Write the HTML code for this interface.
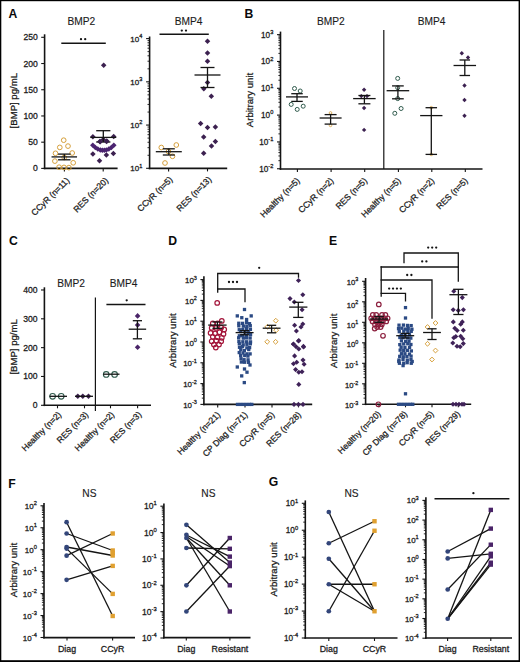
<!DOCTYPE html>
<html><head><meta charset="utf-8"><style>
html,body{margin:0;padding:0;background:#fff;width:520px;height:662px;overflow:hidden}
svg{display:block;font-family:"Liberation Sans",sans-serif}
</style></head><body>
<svg width="520" height="662" viewBox="0 0 520 662" font-family="Liberation Sans, sans-serif">
<rect width="520" height="662" fill="#fff"/>
<text x="8.6" y="17.9" font-size="12.2" text-anchor="start" font-weight="bold" fill="#0a0a0a">A</text>
<text x="81.3" y="24.6" font-size="10.2" text-anchor="middle" fill="#1c1c1c" stroke="#1c1c1c" stroke-width="0.12">BMP2</text>
<text x="188.5" y="24.6" font-size="10.2" text-anchor="middle" fill="#1c1c1c" stroke="#1c1c1c" stroke-width="0.12">BMP4</text>
<text x="17.4" y="100.7" font-size="9.6" text-anchor="middle" transform="rotate(-90 17.4 100.7)" fill="#1c1c1c" stroke="#1c1c1c" stroke-width="0.28">[BMP] pg/mL</text>
<line x1="44.6" y1="34.3" x2="44.6" y2="169.2" stroke="#141414" stroke-width="1.6" stroke-linecap="butt"/>
<line x1="43.8" y1="168.4" x2="117.6" y2="168.4" stroke="#141414" stroke-width="1.6" stroke-linecap="butt"/>
<line x1="41.2" y1="168.4" x2="44.6" y2="168.4" stroke="#141414" stroke-width="1.1" stroke-linecap="butt"/>
<text x="37.8" y="171.4" font-size="8.6" text-anchor="end" fill="#1c1c1c" stroke="#1c1c1c" stroke-width="0.28">0</text>
<line x1="41.2" y1="142.18" x2="44.6" y2="142.18" stroke="#141414" stroke-width="1.1" stroke-linecap="butt"/>
<text x="37.8" y="145.18" font-size="8.6" text-anchor="end" fill="#1c1c1c" stroke="#1c1c1c" stroke-width="0.28">50</text>
<line x1="41.2" y1="115.96" x2="44.6" y2="115.96" stroke="#141414" stroke-width="1.1" stroke-linecap="butt"/>
<text x="37.8" y="118.96" font-size="8.6" text-anchor="end" fill="#1c1c1c" stroke="#1c1c1c" stroke-width="0.28">100</text>
<line x1="41.2" y1="89.74" x2="44.6" y2="89.74" stroke="#141414" stroke-width="1.1" stroke-linecap="butt"/>
<text x="37.8" y="92.74" font-size="8.6" text-anchor="end" fill="#1c1c1c" stroke="#1c1c1c" stroke-width="0.28">150</text>
<line x1="41.2" y1="63.52" x2="44.6" y2="63.52" stroke="#141414" stroke-width="1.1" stroke-linecap="butt"/>
<text x="37.8" y="66.52" font-size="8.6" text-anchor="end" fill="#1c1c1c" stroke="#1c1c1c" stroke-width="0.28">200</text>
<line x1="41.2" y1="37.3" x2="44.6" y2="37.3" stroke="#141414" stroke-width="1.1" stroke-linecap="butt"/>
<text x="37.8" y="40.3" font-size="8.6" text-anchor="end" fill="#1c1c1c" stroke="#1c1c1c" stroke-width="0.28">250</text>
<line x1="64.4" y1="168.4" x2="64.4" y2="171.4" stroke="#141414" stroke-width="1.1" stroke-linecap="butt"/>
<text x="70" y="181" font-size="8.6" text-anchor="end" transform="rotate(-45 70 181)" fill="#1c1c1c" stroke="#1c1c1c" stroke-width="0.28">CCyR (n=11)</text>
<line x1="103.2" y1="168.4" x2="103.2" y2="171.4" stroke="#141414" stroke-width="1.1" stroke-linecap="butt"/>
<text x="108.8" y="181" font-size="8.6" text-anchor="end" transform="rotate(-45 108.8 181)" fill="#1c1c1c" stroke="#1c1c1c" stroke-width="0.28">RES (n=20)</text>
<line x1="61.3" y1="43.3" x2="105.8" y2="43.3" stroke="#141414" stroke-width="1.4" stroke-linecap="butt"/>
<circle cx="81" cy="39.2" r="1.15" fill="#141414"/>
<circle cx="85.2" cy="39.2" r="1.15" fill="#141414"/>
<circle cx="63.7" cy="140.2" r="2.35" fill="none" stroke="#d6a03c" stroke-width="1.0"/>
<circle cx="59.8" cy="147.4" r="2.35" fill="none" stroke="#d6a03c" stroke-width="1.0"/>
<circle cx="68" cy="146.1" r="2.35" fill="none" stroke="#d6a03c" stroke-width="1.0"/>
<circle cx="55.5" cy="153.3" r="2.35" fill="none" stroke="#d6a03c" stroke-width="1.0"/>
<circle cx="72.2" cy="153" r="2.35" fill="none" stroke="#d6a03c" stroke-width="1.0"/>
<circle cx="54.9" cy="161.1" r="2.35" fill="none" stroke="#d6a03c" stroke-width="1.0"/>
<circle cx="73.2" cy="162.8" r="2.35" fill="none" stroke="#d6a03c" stroke-width="1.0"/>
<circle cx="59.1" cy="167.2" r="2.35" fill="none" stroke="#d6a03c" stroke-width="1.0"/>
<circle cx="64" cy="167.4" r="2.35" fill="none" stroke="#d6a03c" stroke-width="1.0"/>
<circle cx="68.9" cy="167.6" r="2.35" fill="none" stroke="#d6a03c" stroke-width="1.0"/>
<circle cx="64.2" cy="157.5" r="2.35" fill="none" stroke="#d6a03c" stroke-width="1.0"/>
<line x1="51.55" y1="156.9" x2="77.05" y2="156.9" stroke="#141414" stroke-width="1.3" stroke-linecap="butt"/>
<line x1="58.05" y1="154.1" x2="70.55" y2="154.1" stroke="#141414" stroke-width="1.3" stroke-linecap="butt"/>
<line x1="58.05" y1="159.8" x2="70.55" y2="159.8" stroke="#141414" stroke-width="1.3" stroke-linecap="butt"/>
<line x1="64.3" y1="154.1" x2="64.3" y2="159.8" stroke="#141414" stroke-width="1.3" stroke-linecap="butt"/>
<path d="M103.7 62.55L106.45 65.3L103.7 68.05L100.95 65.3Z" fill="#3c2150"/>
<path d="M92.9 134.05L95.65 136.8L92.9 139.55L90.15 136.8Z" fill="#3c2150"/>
<path d="M113.7 133.65L116.45 136.4L113.7 139.15L110.95 136.4Z" fill="#3c2150"/>
<path d="M99.9 138.85L102.65 141.6L99.9 144.35L97.15 141.6Z" fill="#3c2150"/>
<path d="M106.8 138.15L109.55 140.9L106.8 143.65L104.05 140.9Z" fill="#3c2150"/>
<path d="M103.3 136.75L106.05 139.5L103.3 142.25L100.55 139.5Z" fill="#3c2150"/>
<path d="M92.9 151.35L95.65 154.1L92.9 156.85L90.15 154.1Z" fill="#3c2150"/>
<path d="M106.4 152.35L109.15 155.1L106.4 157.85L103.65 155.1Z" fill="#3c2150"/>
<path d="M113.4 150.65L116.15 153.4L113.4 156.15L110.65 153.4Z" fill="#3c2150"/>
<path d="M99.5 157.95L102.25 160.7L99.5 163.45L96.75 160.7Z" fill="#3c2150"/>
<path d="M92.8 142.47L95.55 145.22L92.8 147.97L90.05 145.22Z" fill="#4b2470"/>
<path d="M95.3 144.64L98.05 147.39L95.3 150.14L92.55 147.39Z" fill="#4b2470"/>
<path d="M97.8 146.23L100.55 148.98L97.8 151.73L95.05 148.98Z" fill="#4b2470"/>
<path d="M100.3 147.23L103.05 149.98L100.3 152.73L97.55 149.98Z" fill="#4b2470"/>
<path d="M102.3 147.6L105.05 150.35L102.3 153.1L99.55 150.35Z" fill="#4b2470"/>
<path d="M104.3 147.6L107.05 150.35L104.3 153.1L101.55 150.35Z" fill="#4b2470"/>
<path d="M106.3 147.23L109.05 149.98L106.3 152.73L103.55 149.98Z" fill="#4b2470"/>
<path d="M108.8 146.23L111.55 148.98L108.8 151.73L106.05 148.98Z" fill="#4b2470"/>
<path d="M111.3 144.64L114.05 147.39L111.3 150.14L108.55 147.39Z" fill="#4b2470"/>
<path d="M113.8 142.47L116.55 145.22L113.8 147.97L111.05 145.22Z" fill="#4b2470"/>
<line x1="90.3" y1="137.4" x2="116.3" y2="137.4" stroke="#141414" stroke-width="1.3" stroke-linecap="butt"/>
<line x1="96.2" y1="130.7" x2="110.4" y2="130.7" stroke="#141414" stroke-width="1.3" stroke-linecap="butt"/>
<line x1="96.2" y1="142" x2="110.4" y2="142" stroke="#141414" stroke-width="1.3" stroke-linecap="butt"/>
<line x1="103.3" y1="130.7" x2="103.3" y2="142" stroke="#141414" stroke-width="1.3" stroke-linecap="butt"/>
<path d="M100.2 139.05L102.95 141.8L100.2 144.55L97.45 141.8Z" fill="#3c2150"/>
<path d="M106.5 138.65L109.25 141.4L106.5 144.15L103.75 141.4Z" fill="#3c2150"/>
<line x1="149.6" y1="36.5" x2="149.6" y2="169.2" stroke="#141414" stroke-width="1.6" stroke-linecap="butt"/>
<line x1="148.8" y1="168.4" x2="227.2" y2="168.4" stroke="#141414" stroke-width="1.6" stroke-linecap="butt"/>
<line x1="146.1" y1="38.6" x2="149.6" y2="38.6" stroke="#141414" stroke-width="1.1" stroke-linecap="butt"/>
<text x="142.4" y="41.6" font-size="8.0" text-anchor="end" fill="#1c1c1c" stroke="#1c1c1c" stroke-width="0.28">10<tspan font-size="5.6" dy="-3.58">4</tspan></text>
<line x1="147.5" y1="68.82" x2="149.6" y2="68.82" stroke="#141414" stroke-width="0.9" stroke-linecap="butt"/>
<line x1="147.5" y1="61.21" x2="149.6" y2="61.21" stroke="#141414" stroke-width="0.9" stroke-linecap="butt"/>
<line x1="147.5" y1="55.8" x2="149.6" y2="55.8" stroke="#141414" stroke-width="0.9" stroke-linecap="butt"/>
<line x1="147.5" y1="51.61" x2="149.6" y2="51.61" stroke="#141414" stroke-width="0.9" stroke-linecap="butt"/>
<line x1="147.5" y1="48.19" x2="149.6" y2="48.19" stroke="#141414" stroke-width="0.9" stroke-linecap="butt"/>
<line x1="147.5" y1="45.3" x2="149.6" y2="45.3" stroke="#141414" stroke-width="0.9" stroke-linecap="butt"/>
<line x1="147.5" y1="42.79" x2="149.6" y2="42.79" stroke="#141414" stroke-width="0.9" stroke-linecap="butt"/>
<line x1="147.5" y1="40.58" x2="149.6" y2="40.58" stroke="#141414" stroke-width="0.9" stroke-linecap="butt"/>
<line x1="146.1" y1="81.83" x2="149.6" y2="81.83" stroke="#141414" stroke-width="1.1" stroke-linecap="butt"/>
<text x="142.4" y="84.83" font-size="8.0" text-anchor="end" fill="#1c1c1c" stroke="#1c1c1c" stroke-width="0.28">10<tspan font-size="5.6" dy="-3.58">3</tspan></text>
<line x1="147.5" y1="112.05" x2="149.6" y2="112.05" stroke="#141414" stroke-width="0.9" stroke-linecap="butt"/>
<line x1="147.5" y1="104.44" x2="149.6" y2="104.44" stroke="#141414" stroke-width="0.9" stroke-linecap="butt"/>
<line x1="147.5" y1="99.04" x2="149.6" y2="99.04" stroke="#141414" stroke-width="0.9" stroke-linecap="butt"/>
<line x1="147.5" y1="94.85" x2="149.6" y2="94.85" stroke="#141414" stroke-width="0.9" stroke-linecap="butt"/>
<line x1="147.5" y1="91.42" x2="149.6" y2="91.42" stroke="#141414" stroke-width="0.9" stroke-linecap="butt"/>
<line x1="147.5" y1="88.53" x2="149.6" y2="88.53" stroke="#141414" stroke-width="0.9" stroke-linecap="butt"/>
<line x1="147.5" y1="86.02" x2="149.6" y2="86.02" stroke="#141414" stroke-width="0.9" stroke-linecap="butt"/>
<line x1="147.5" y1="83.81" x2="149.6" y2="83.81" stroke="#141414" stroke-width="0.9" stroke-linecap="butt"/>
<line x1="146.1" y1="125.07" x2="149.6" y2="125.07" stroke="#141414" stroke-width="1.1" stroke-linecap="butt"/>
<text x="142.4" y="128.07" font-size="8.0" text-anchor="end" fill="#1c1c1c" stroke="#1c1c1c" stroke-width="0.28">10<tspan font-size="5.6" dy="-3.58">2</tspan></text>
<line x1="147.5" y1="155.29" x2="149.6" y2="155.29" stroke="#141414" stroke-width="0.9" stroke-linecap="butt"/>
<line x1="147.5" y1="147.67" x2="149.6" y2="147.67" stroke="#141414" stroke-width="0.9" stroke-linecap="butt"/>
<line x1="147.5" y1="142.27" x2="149.6" y2="142.27" stroke="#141414" stroke-width="0.9" stroke-linecap="butt"/>
<line x1="147.5" y1="138.08" x2="149.6" y2="138.08" stroke="#141414" stroke-width="0.9" stroke-linecap="butt"/>
<line x1="147.5" y1="134.66" x2="149.6" y2="134.66" stroke="#141414" stroke-width="0.9" stroke-linecap="butt"/>
<line x1="147.5" y1="131.76" x2="149.6" y2="131.76" stroke="#141414" stroke-width="0.9" stroke-linecap="butt"/>
<line x1="147.5" y1="129.26" x2="149.6" y2="129.26" stroke="#141414" stroke-width="0.9" stroke-linecap="butt"/>
<line x1="147.5" y1="127.04" x2="149.6" y2="127.04" stroke="#141414" stroke-width="0.9" stroke-linecap="butt"/>
<line x1="146.1" y1="168.3" x2="149.6" y2="168.3" stroke="#141414" stroke-width="1.1" stroke-linecap="butt"/>
<text x="142.4" y="171.3" font-size="8.0" text-anchor="end" fill="#1c1c1c" stroke="#1c1c1c" stroke-width="0.28">10<tspan font-size="5.6" dy="-3.58">1</tspan></text>
<line x1="168.6" y1="168.4" x2="168.6" y2="171.4" stroke="#141414" stroke-width="1.1" stroke-linecap="butt"/>
<text x="173.1" y="180" font-size="8.6" text-anchor="end" transform="rotate(-45 173.1 180)" fill="#1c1c1c" stroke="#1c1c1c" stroke-width="0.28">CCyR (n=5)</text>
<line x1="207.5" y1="168.4" x2="207.5" y2="171.4" stroke="#141414" stroke-width="1.1" stroke-linecap="butt"/>
<text x="212" y="180" font-size="8.6" text-anchor="end" transform="rotate(-45 212 180)" fill="#1c1c1c" stroke="#1c1c1c" stroke-width="0.28">RES (n=13)</text>
<line x1="159.5" y1="34.3" x2="208.8" y2="34.3" stroke="#141414" stroke-width="1.4" stroke-linecap="butt"/>
<circle cx="181.8" cy="30.6" r="1.15" fill="#141414"/>
<circle cx="186" cy="30.6" r="1.15" fill="#141414"/>
<circle cx="161.3" cy="147.5" r="2.35" fill="none" stroke="#d6a03c" stroke-width="1.0"/>
<circle cx="176.3" cy="145" r="2.35" fill="none" stroke="#d6a03c" stroke-width="1.0"/>
<circle cx="172.5" cy="156.3" r="2.35" fill="none" stroke="#d6a03c" stroke-width="1.0"/>
<circle cx="165" cy="163" r="2.35" fill="none" stroke="#d6a03c" stroke-width="1.0"/>
<circle cx="168.5" cy="151.5" r="2.35" fill="none" stroke="#d6a03c" stroke-width="1.0"/>
<line x1="155.8" y1="151.7" x2="181.8" y2="151.7" stroke="#141414" stroke-width="1.3" stroke-linecap="butt"/>
<line x1="162.8" y1="148.8" x2="174.8" y2="148.8" stroke="#141414" stroke-width="1.3" stroke-linecap="butt"/>
<line x1="162.8" y1="155" x2="174.8" y2="155" stroke="#141414" stroke-width="1.3" stroke-linecap="butt"/>
<line x1="168.8" y1="148.8" x2="168.8" y2="155" stroke="#141414" stroke-width="1.3" stroke-linecap="butt"/>
<path d="M207.5 38.55L210.25 41.3L207.5 44.05L204.75 41.3Z" fill="#3c2150"/>
<path d="M207.5 50.25L210.25 53L207.5 55.75L204.75 53Z" fill="#3c2150"/>
<path d="M207.5 58.55L210.25 61.3L207.5 64.05L204.75 61.3Z" fill="#3c2150"/>
<path d="M207.5 79.75L210.25 82.5L207.5 85.25L204.75 82.5Z" fill="#3c2150"/>
<path d="M203.8 86.05L206.55 88.8L203.8 91.55L201.05 88.8Z" fill="#3c2150"/>
<path d="M211.3 93.55L214.05 96.3L211.3 99.05L208.55 96.3Z" fill="#3c2150"/>
<path d="M200.6 120.85L203.35 123.6L200.6 126.35L197.85 123.6Z" fill="#3c2150"/>
<path d="M207.5 124.65L210.25 127.4L207.5 130.15L204.75 127.4Z" fill="#3c2150"/>
<path d="M215.4 124.35L218.15 127.1L215.4 129.85L212.65 127.1Z" fill="#3c2150"/>
<path d="M203.7 134.15L206.45 136.9L203.7 139.65L200.95 136.9Z" fill="#3c2150"/>
<path d="M215.4 138.65L218.15 141.4L215.4 144.15L212.65 141.4Z" fill="#3c2150"/>
<path d="M211.5 143.35L214.25 146.1L211.5 148.85L208.75 146.1Z" fill="#3c2150"/>
<path d="M203.7 150.55L206.45 153.3L203.7 156.05L200.95 153.3Z" fill="#3c2150"/>
<line x1="194.5" y1="75" x2="220.5" y2="75" stroke="#141414" stroke-width="1.3" stroke-linecap="butt"/>
<line x1="200.5" y1="67.5" x2="214.5" y2="67.5" stroke="#141414" stroke-width="1.3" stroke-linecap="butt"/>
<line x1="200.5" y1="87.5" x2="214.5" y2="87.5" stroke="#141414" stroke-width="1.3" stroke-linecap="butt"/>
<line x1="207.5" y1="67.5" x2="207.5" y2="87.5" stroke="#141414" stroke-width="1.3" stroke-linecap="butt"/>
<text x="244.5" y="18" font-size="12.2" text-anchor="start" font-weight="bold" fill="#0a0a0a">B</text>
<text x="330.8" y="24.6" font-size="10.2" text-anchor="middle" fill="#1c1c1c" stroke="#1c1c1c" stroke-width="0.12">BMP2</text>
<text x="431.5" y="24.6" font-size="10.2" text-anchor="middle" fill="#1c1c1c" stroke="#1c1c1c" stroke-width="0.12">BMP4</text>
<text x="252.8" y="100" font-size="9.6" text-anchor="middle" transform="rotate(-90 252.8 100)" fill="#1c1c1c" stroke="#1c1c1c" stroke-width="0.28">Arbitrary unit</text>
<line x1="280.5" y1="31.6" x2="280.5" y2="169.8" stroke="#141414" stroke-width="1.6" stroke-linecap="butt"/>
<line x1="279.7" y1="169" x2="482.5" y2="169" stroke="#141414" stroke-width="1.6" stroke-linecap="butt"/>
<line x1="277" y1="34.65" x2="280.5" y2="34.65" stroke="#141414" stroke-width="1.1" stroke-linecap="butt"/>
<text x="273.3" y="37.65" font-size="8.2" text-anchor="end" fill="#1c1c1c" stroke="#1c1c1c" stroke-width="0.28">10<tspan font-size="5.7" dy="-3.65">3</tspan></text>
<line x1="278.4" y1="53.4" x2="280.5" y2="53.4" stroke="#141414" stroke-width="0.9" stroke-linecap="butt"/>
<line x1="278.4" y1="48.67" x2="280.5" y2="48.67" stroke="#141414" stroke-width="0.9" stroke-linecap="butt"/>
<line x1="278.4" y1="45.32" x2="280.5" y2="45.32" stroke="#141414" stroke-width="0.9" stroke-linecap="butt"/>
<line x1="278.4" y1="42.72" x2="280.5" y2="42.72" stroke="#141414" stroke-width="0.9" stroke-linecap="butt"/>
<line x1="278.4" y1="40.6" x2="280.5" y2="40.6" stroke="#141414" stroke-width="0.9" stroke-linecap="butt"/>
<line x1="278.4" y1="38.8" x2="280.5" y2="38.8" stroke="#141414" stroke-width="0.9" stroke-linecap="butt"/>
<line x1="278.4" y1="37.25" x2="280.5" y2="37.25" stroke="#141414" stroke-width="0.9" stroke-linecap="butt"/>
<line x1="278.4" y1="35.88" x2="280.5" y2="35.88" stroke="#141414" stroke-width="0.9" stroke-linecap="butt"/>
<line x1="277" y1="61.47" x2="280.5" y2="61.47" stroke="#141414" stroke-width="1.1" stroke-linecap="butt"/>
<text x="273.3" y="64.47" font-size="8.2" text-anchor="end" fill="#1c1c1c" stroke="#1c1c1c" stroke-width="0.28">10<tspan font-size="5.7" dy="-3.65">2</tspan></text>
<line x1="278.4" y1="80.22" x2="280.5" y2="80.22" stroke="#141414" stroke-width="0.9" stroke-linecap="butt"/>
<line x1="278.4" y1="75.49" x2="280.5" y2="75.49" stroke="#141414" stroke-width="0.9" stroke-linecap="butt"/>
<line x1="278.4" y1="72.14" x2="280.5" y2="72.14" stroke="#141414" stroke-width="0.9" stroke-linecap="butt"/>
<line x1="278.4" y1="69.54" x2="280.5" y2="69.54" stroke="#141414" stroke-width="0.9" stroke-linecap="butt"/>
<line x1="278.4" y1="67.42" x2="280.5" y2="67.42" stroke="#141414" stroke-width="0.9" stroke-linecap="butt"/>
<line x1="278.4" y1="65.62" x2="280.5" y2="65.62" stroke="#141414" stroke-width="0.9" stroke-linecap="butt"/>
<line x1="278.4" y1="64.07" x2="280.5" y2="64.07" stroke="#141414" stroke-width="0.9" stroke-linecap="butt"/>
<line x1="278.4" y1="62.7" x2="280.5" y2="62.7" stroke="#141414" stroke-width="0.9" stroke-linecap="butt"/>
<line x1="277" y1="88.29" x2="280.5" y2="88.29" stroke="#141414" stroke-width="1.1" stroke-linecap="butt"/>
<text x="273.3" y="91.29" font-size="8.2" text-anchor="end" fill="#1c1c1c" stroke="#1c1c1c" stroke-width="0.28">10<tspan font-size="5.7" dy="-3.65">1</tspan></text>
<line x1="278.4" y1="107.04" x2="280.5" y2="107.04" stroke="#141414" stroke-width="0.9" stroke-linecap="butt"/>
<line x1="278.4" y1="102.31" x2="280.5" y2="102.31" stroke="#141414" stroke-width="0.9" stroke-linecap="butt"/>
<line x1="278.4" y1="98.96" x2="280.5" y2="98.96" stroke="#141414" stroke-width="0.9" stroke-linecap="butt"/>
<line x1="278.4" y1="96.36" x2="280.5" y2="96.36" stroke="#141414" stroke-width="0.9" stroke-linecap="butt"/>
<line x1="278.4" y1="94.24" x2="280.5" y2="94.24" stroke="#141414" stroke-width="0.9" stroke-linecap="butt"/>
<line x1="278.4" y1="92.44" x2="280.5" y2="92.44" stroke="#141414" stroke-width="0.9" stroke-linecap="butt"/>
<line x1="278.4" y1="90.89" x2="280.5" y2="90.89" stroke="#141414" stroke-width="0.9" stroke-linecap="butt"/>
<line x1="278.4" y1="89.52" x2="280.5" y2="89.52" stroke="#141414" stroke-width="0.9" stroke-linecap="butt"/>
<line x1="277" y1="115.11" x2="280.5" y2="115.11" stroke="#141414" stroke-width="1.1" stroke-linecap="butt"/>
<text x="273.3" y="118.11" font-size="8.2" text-anchor="end" fill="#1c1c1c" stroke="#1c1c1c" stroke-width="0.28">10<tspan font-size="5.7" dy="-3.65">0</tspan></text>
<line x1="278.4" y1="133.86" x2="280.5" y2="133.86" stroke="#141414" stroke-width="0.9" stroke-linecap="butt"/>
<line x1="278.4" y1="129.13" x2="280.5" y2="129.13" stroke="#141414" stroke-width="0.9" stroke-linecap="butt"/>
<line x1="278.4" y1="125.78" x2="280.5" y2="125.78" stroke="#141414" stroke-width="0.9" stroke-linecap="butt"/>
<line x1="278.4" y1="123.18" x2="280.5" y2="123.18" stroke="#141414" stroke-width="0.9" stroke-linecap="butt"/>
<line x1="278.4" y1="121.06" x2="280.5" y2="121.06" stroke="#141414" stroke-width="0.9" stroke-linecap="butt"/>
<line x1="278.4" y1="119.26" x2="280.5" y2="119.26" stroke="#141414" stroke-width="0.9" stroke-linecap="butt"/>
<line x1="278.4" y1="117.71" x2="280.5" y2="117.71" stroke="#141414" stroke-width="0.9" stroke-linecap="butt"/>
<line x1="278.4" y1="116.34" x2="280.5" y2="116.34" stroke="#141414" stroke-width="0.9" stroke-linecap="butt"/>
<line x1="277" y1="141.93" x2="280.5" y2="141.93" stroke="#141414" stroke-width="1.1" stroke-linecap="butt"/>
<text x="273.3" y="144.93" font-size="8.2" text-anchor="end" fill="#1c1c1c" stroke="#1c1c1c" stroke-width="0.28">10<tspan font-size="5.7" dy="-3.65">-1</tspan></text>
<line x1="278.4" y1="160.68" x2="280.5" y2="160.68" stroke="#141414" stroke-width="0.9" stroke-linecap="butt"/>
<line x1="278.4" y1="155.95" x2="280.5" y2="155.95" stroke="#141414" stroke-width="0.9" stroke-linecap="butt"/>
<line x1="278.4" y1="152.6" x2="280.5" y2="152.6" stroke="#141414" stroke-width="0.9" stroke-linecap="butt"/>
<line x1="278.4" y1="150" x2="280.5" y2="150" stroke="#141414" stroke-width="0.9" stroke-linecap="butt"/>
<line x1="278.4" y1="147.88" x2="280.5" y2="147.88" stroke="#141414" stroke-width="0.9" stroke-linecap="butt"/>
<line x1="278.4" y1="146.08" x2="280.5" y2="146.08" stroke="#141414" stroke-width="0.9" stroke-linecap="butt"/>
<line x1="278.4" y1="144.53" x2="280.5" y2="144.53" stroke="#141414" stroke-width="0.9" stroke-linecap="butt"/>
<line x1="278.4" y1="143.16" x2="280.5" y2="143.16" stroke="#141414" stroke-width="0.9" stroke-linecap="butt"/>
<line x1="277" y1="168.75" x2="280.5" y2="168.75" stroke="#141414" stroke-width="1.1" stroke-linecap="butt"/>
<text x="273.3" y="171.75" font-size="8.2" text-anchor="end" fill="#1c1c1c" stroke="#1c1c1c" stroke-width="0.28">10<tspan font-size="5.7" dy="-3.65">-2</tspan></text>
<line x1="383.8" y1="30" x2="383.8" y2="169" stroke="#141414" stroke-width="1.2" stroke-linecap="butt"/>
<line x1="297.4" y1="169" x2="297.4" y2="172" stroke="#141414" stroke-width="1.1" stroke-linecap="butt"/>
<text x="300.4" y="181.3" font-size="8.6" text-anchor="end" transform="rotate(-45 300.4 181.3)" fill="#1c1c1c" stroke="#1c1c1c" stroke-width="0.28">Healthy (n=5)</text>
<line x1="331.1" y1="169" x2="331.1" y2="172" stroke="#141414" stroke-width="1.1" stroke-linecap="butt"/>
<text x="334.1" y="181.3" font-size="8.6" text-anchor="end" transform="rotate(-45 334.1 181.3)" fill="#1c1c1c" stroke="#1c1c1c" stroke-width="0.28">CCyR (n=2)</text>
<line x1="364.7" y1="169" x2="364.7" y2="172" stroke="#141414" stroke-width="1.1" stroke-linecap="butt"/>
<text x="367.7" y="181.3" font-size="8.6" text-anchor="end" transform="rotate(-45 367.7 181.3)" fill="#1c1c1c" stroke="#1c1c1c" stroke-width="0.28">RES (n=5)</text>
<line x1="398.4" y1="169" x2="398.4" y2="172" stroke="#141414" stroke-width="1.1" stroke-linecap="butt"/>
<text x="401.4" y="181.3" font-size="8.6" text-anchor="end" transform="rotate(-45 401.4 181.3)" fill="#1c1c1c" stroke="#1c1c1c" stroke-width="0.28">Healthy (n=5)</text>
<line x1="431.8" y1="169" x2="431.8" y2="172" stroke="#141414" stroke-width="1.1" stroke-linecap="butt"/>
<text x="434.8" y="181.3" font-size="8.6" text-anchor="end" transform="rotate(-45 434.8 181.3)" fill="#1c1c1c" stroke="#1c1c1c" stroke-width="0.28">CCyR (n=2)</text>
<line x1="465.3" y1="169" x2="465.3" y2="172" stroke="#141414" stroke-width="1.1" stroke-linecap="butt"/>
<text x="468.3" y="181.3" font-size="8.6" text-anchor="end" transform="rotate(-45 468.3 181.3)" fill="#1c1c1c" stroke="#1c1c1c" stroke-width="0.28">RES (n=5)</text>
<circle cx="294.5" cy="88.5" r="2.0" fill="none" stroke="#2f5a4c" stroke-width="1.0"/>
<circle cx="300.2" cy="91" r="2.0" fill="none" stroke="#2f5a4c" stroke-width="1.0"/>
<circle cx="291.2" cy="104.4" r="2.0" fill="none" stroke="#2f5a4c" stroke-width="1.0"/>
<circle cx="303.2" cy="106.2" r="2.0" fill="none" stroke="#2f5a4c" stroke-width="1.0"/>
<circle cx="297.2" cy="109.4" r="2.0" fill="none" stroke="#2f5a4c" stroke-width="1.0"/>
<line x1="286" y1="96.9" x2="308" y2="96.9" stroke="#141414" stroke-width="1.3" stroke-linecap="butt"/>
<line x1="291.25" y1="93.7" x2="302.75" y2="93.7" stroke="#141414" stroke-width="1.3" stroke-linecap="butt"/>
<line x1="291.25" y1="101.4" x2="302.75" y2="101.4" stroke="#141414" stroke-width="1.3" stroke-linecap="butt"/>
<line x1="297" y1="93.7" x2="297" y2="101.4" stroke="#141414" stroke-width="1.3" stroke-linecap="butt"/>
<circle cx="330.5" cy="112.9" r="1.3" fill="none" stroke="#d6a03c" stroke-width="0.8"/>
<circle cx="330.5" cy="125.4" r="1.3" fill="none" stroke="#d6a03c" stroke-width="0.8"/>
<line x1="319.6" y1="118" x2="341.6" y2="118" stroke="#141414" stroke-width="1.3" stroke-linecap="butt"/>
<line x1="324.6" y1="114.6" x2="336.6" y2="114.6" stroke="#141414" stroke-width="1.3" stroke-linecap="butt"/>
<line x1="324.6" y1="124.1" x2="336.6" y2="124.1" stroke="#141414" stroke-width="1.3" stroke-linecap="butt"/>
<line x1="330.6" y1="114.6" x2="330.6" y2="124.1" stroke="#141414" stroke-width="1.3" stroke-linecap="butt"/>
<path d="M364.1 87.6L366.3 89.8L364.1 92L361.9 89.8Z" fill="#3c2150"/>
<path d="M364.1 105.8L366.3 108L364.1 110.2L361.9 108Z" fill="#3c2150"/>
<path d="M364.1 127.7L366.3 129.9L364.1 132.1L361.9 129.9Z" fill="#3c2150"/>
<path d="M361.3 93.9L363.5 96.1L361.3 98.3L359.1 96.1Z" fill="#3c2150"/>
<path d="M367 93.9L369.2 96.1L367 98.3L364.8 96.1Z" fill="#3c2150"/>
<line x1="353.15" y1="98.6" x2="375.65" y2="98.6" stroke="#141414" stroke-width="1.3" stroke-linecap="butt"/>
<line x1="358.4" y1="95.5" x2="370.4" y2="95.5" stroke="#141414" stroke-width="1.3" stroke-linecap="butt"/>
<line x1="358.4" y1="103.8" x2="370.4" y2="103.8" stroke="#141414" stroke-width="1.3" stroke-linecap="butt"/>
<line x1="364.4" y1="95.5" x2="364.4" y2="103.8" stroke="#141414" stroke-width="1.3" stroke-linecap="butt"/>
<circle cx="397.7" cy="78.4" r="2.0" fill="none" stroke="#2f5a4c" stroke-width="1.0"/>
<circle cx="401.1" cy="108.5" r="2.0" fill="none" stroke="#2f5a4c" stroke-width="1.0"/>
<circle cx="394.8" cy="113.3" r="2.0" fill="none" stroke="#2f5a4c" stroke-width="1.0"/>
<circle cx="397.7" cy="87.7" r="2.0" fill="none" stroke="#2f5a4c" stroke-width="1.0"/>
<circle cx="397.7" cy="98.6" r="2.0" fill="none" stroke="#2f5a4c" stroke-width="1.0"/>
<line x1="386.6" y1="90.7" x2="409.2" y2="90.7" stroke="#141414" stroke-width="1.3" stroke-linecap="butt"/>
<line x1="392.05" y1="85.9" x2="403.75" y2="85.9" stroke="#141414" stroke-width="1.3" stroke-linecap="butt"/>
<line x1="392.05" y1="98.8" x2="403.75" y2="98.8" stroke="#141414" stroke-width="1.3" stroke-linecap="butt"/>
<line x1="397.9" y1="85.9" x2="397.9" y2="98.8" stroke="#141414" stroke-width="1.3" stroke-linecap="butt"/>
<circle cx="431.3" cy="107.7" r="1.3" fill="none" stroke="#d6a03c" stroke-width="0.8"/>
<circle cx="431.3" cy="154.4" r="1.3" fill="none" stroke="#d6a03c" stroke-width="0.8"/>
<line x1="420.15" y1="115.6" x2="442.45" y2="115.6" stroke="#141414" stroke-width="1.3" stroke-linecap="butt"/>
<line x1="425.55" y1="107.7" x2="437.05" y2="107.7" stroke="#141414" stroke-width="1.3" stroke-linecap="butt"/>
<line x1="425.55" y1="154.4" x2="437.05" y2="154.4" stroke="#141414" stroke-width="1.3" stroke-linecap="butt"/>
<line x1="431.3" y1="107.7" x2="431.3" y2="154.4" stroke="#141414" stroke-width="1.3" stroke-linecap="butt"/>
<path d="M461.8 51.1L464 53.3L461.8 55.5L459.6 53.3Z" fill="#3c2150"/>
<path d="M468 55.3L470.2 57.5L468 59.7L465.8 57.5Z" fill="#3c2150"/>
<path d="M464.5 83.3L466.7 85.5L464.5 87.7L462.3 85.5Z" fill="#3c2150"/>
<path d="M464.5 97.8L466.7 100L464.5 102.2L462.3 100Z" fill="#3c2150"/>
<path d="M464.5 113.6L466.7 115.8L464.5 118L462.3 115.8Z" fill="#3c2150"/>
<line x1="453.55" y1="65.5" x2="476.05" y2="65.5" stroke="#141414" stroke-width="1.3" stroke-linecap="butt"/>
<line x1="459.55" y1="60" x2="470.05" y2="60" stroke="#141414" stroke-width="1.3" stroke-linecap="butt"/>
<line x1="459.55" y1="75.5" x2="470.05" y2="75.5" stroke="#141414" stroke-width="1.3" stroke-linecap="butt"/>
<line x1="464.8" y1="60" x2="464.8" y2="75.5" stroke="#141414" stroke-width="1.3" stroke-linecap="butt"/>
<text x="9" y="245" font-size="12.2" text-anchor="start" font-weight="bold" fill="#0a0a0a">C</text>
<text x="71" y="287.2" font-size="10.2" text-anchor="middle" fill="#1c1c1c" stroke="#1c1c1c" stroke-width="0.12">BMP2</text>
<text x="123.5" y="287.2" font-size="10.2" text-anchor="middle" fill="#1c1c1c" stroke="#1c1c1c" stroke-width="0.12">BMP4</text>
<text x="17.4" y="346.9" font-size="9.6" text-anchor="middle" transform="rotate(-90 17.4 346.9)" fill="#1c1c1c" stroke="#1c1c1c" stroke-width="0.28">[BMP] pg/mL</text>
<line x1="44.4" y1="287.3" x2="44.4" y2="406.1" stroke="#141414" stroke-width="1.6" stroke-linecap="butt"/>
<line x1="43.6" y1="405.3" x2="151" y2="405.3" stroke="#141414" stroke-width="1.6" stroke-linecap="butt"/>
<line x1="41" y1="405.3" x2="44.4" y2="405.3" stroke="#141414" stroke-width="1.1" stroke-linecap="butt"/>
<text x="37.6" y="408.3" font-size="8.6" text-anchor="end" fill="#1c1c1c" stroke="#1c1c1c" stroke-width="0.28">0</text>
<line x1="41" y1="376.47" x2="44.4" y2="376.47" stroke="#141414" stroke-width="1.1" stroke-linecap="butt"/>
<text x="37.6" y="379.47" font-size="8.6" text-anchor="end" fill="#1c1c1c" stroke="#1c1c1c" stroke-width="0.28">100</text>
<line x1="41" y1="347.64" x2="44.4" y2="347.64" stroke="#141414" stroke-width="1.1" stroke-linecap="butt"/>
<text x="37.6" y="350.64" font-size="8.6" text-anchor="end" fill="#1c1c1c" stroke="#1c1c1c" stroke-width="0.28">200</text>
<line x1="41" y1="318.81" x2="44.4" y2="318.81" stroke="#141414" stroke-width="1.1" stroke-linecap="butt"/>
<text x="37.6" y="321.81" font-size="8.6" text-anchor="end" fill="#1c1c1c" stroke="#1c1c1c" stroke-width="0.28">300</text>
<line x1="41" y1="289.98" x2="44.4" y2="289.98" stroke="#141414" stroke-width="1.1" stroke-linecap="butt"/>
<text x="37.6" y="292.98" font-size="8.6" text-anchor="end" fill="#1c1c1c" stroke="#1c1c1c" stroke-width="0.28">400</text>
<line x1="95.4" y1="297.5" x2="95.4" y2="411" stroke="#141414" stroke-width="1.2" stroke-linecap="butt"/>
<line x1="57.5" y1="405.3" x2="57.5" y2="408.3" stroke="#141414" stroke-width="1.1" stroke-linecap="butt"/>
<text x="61.9" y="415.1" font-size="8.6" text-anchor="end" transform="rotate(-45 61.9 415.1)" fill="#1c1c1c" stroke="#1c1c1c" stroke-width="0.28">Healthy (n=2)</text>
<line x1="84.5" y1="405.3" x2="84.5" y2="408.3" stroke="#141414" stroke-width="1.1" stroke-linecap="butt"/>
<text x="88.9" y="415.1" font-size="8.6" text-anchor="end" transform="rotate(-45 88.9 415.1)" fill="#1c1c1c" stroke="#1c1c1c" stroke-width="0.28">RES (n=3)</text>
<line x1="110.5" y1="405.3" x2="110.5" y2="408.3" stroke="#141414" stroke-width="1.1" stroke-linecap="butt"/>
<text x="114.9" y="415.1" font-size="8.6" text-anchor="end" transform="rotate(-45 114.9 415.1)" fill="#1c1c1c" stroke="#1c1c1c" stroke-width="0.28">Healthy (n=2)</text>
<line x1="137.6" y1="405.3" x2="137.6" y2="408.3" stroke="#141414" stroke-width="1.1" stroke-linecap="butt"/>
<text x="142" y="415.1" font-size="8.6" text-anchor="end" transform="rotate(-45 142 415.1)" fill="#1c1c1c" stroke="#1c1c1c" stroke-width="0.28">RES (n=3)</text>
<line x1="106.4" y1="304.5" x2="145.5" y2="304.5" stroke="#141414" stroke-width="1.4" stroke-linecap="butt"/>
<circle cx="126.7" cy="300.3" r="1.15" fill="#141414"/>
<circle cx="52.6" cy="396.3" r="2.8" fill="none" stroke="#2f5a4c" stroke-width="1.1"/>
<circle cx="61.2" cy="396.3" r="2.8" fill="none" stroke="#2f5a4c" stroke-width="1.1"/>
<line x1="49.5" y1="396.3" x2="67" y2="396.3" stroke="#141414" stroke-width="1.3" stroke-linecap="butt"/>
<path d="M77.8 393.5L80.6 396.3L77.8 399.1L75 396.3Z" fill="#3c2150"/>
<path d="M82.8 393.5L85.6 396.3L82.8 399.1L80 396.3Z" fill="#3c2150"/>
<path d="M88.5 393.5L91.3 396.3L88.5 399.1L85.7 396.3Z" fill="#3c2150"/>
<line x1="75" y1="396.3" x2="93" y2="396.3" stroke="#141414" stroke-width="1.3" stroke-linecap="butt"/>
<circle cx="106.2" cy="374.4" r="2.8" fill="none" stroke="#2f5a4c" stroke-width="1.1"/>
<circle cx="114.6" cy="374.4" r="2.8" fill="none" stroke="#2f5a4c" stroke-width="1.1"/>
<line x1="103.2" y1="374.2" x2="119.5" y2="374.2" stroke="#141414" stroke-width="1.3" stroke-linecap="butt"/>
<path d="M137.6 313.1L140.4 315.9L137.6 318.7L134.8 315.9Z" fill="#4a2468"/>
<path d="M137.6 322.2L140.4 325L137.6 327.8L134.8 325Z" fill="#4a2468"/>
<path d="M137.6 344.5L140.4 347.3L137.6 350.1L134.8 347.3Z" fill="#4a2468"/>
<line x1="128.65" y1="329.2" x2="146.15" y2="329.2" stroke="#141414" stroke-width="1.3" stroke-linecap="butt"/>
<line x1="132.8" y1="320.7" x2="142" y2="320.7" stroke="#141414" stroke-width="1.3" stroke-linecap="butt"/>
<line x1="132.8" y1="338.8" x2="142" y2="338.8" stroke="#141414" stroke-width="1.3" stroke-linecap="butt"/>
<line x1="137.4" y1="320.7" x2="137.4" y2="338.8" stroke="#141414" stroke-width="1.3" stroke-linecap="butt"/>
<text x="168.2" y="245" font-size="12.2" text-anchor="start" font-weight="bold" fill="#0a0a0a">D</text>
<text x="175.9" y="340.6" font-size="9.6" text-anchor="middle" transform="rotate(-90 175.9 340.6)" fill="#1c1c1c" stroke="#1c1c1c" stroke-width="0.28">Arbitrary unit</text>
<line x1="203.9" y1="276.2" x2="203.9" y2="405.2" stroke="#141414" stroke-width="1.6" stroke-linecap="butt"/>
<line x1="203.1" y1="404.4" x2="312.2" y2="404.4" stroke="#141414" stroke-width="1.6" stroke-linecap="butt"/>
<line x1="200.4" y1="279.6" x2="203.9" y2="279.6" stroke="#141414" stroke-width="1.1" stroke-linecap="butt"/>
<text x="196.9" y="283.2" font-size="7.9" text-anchor="end" fill="#1c1c1c" stroke="#1c1c1c" stroke-width="0.28">10<tspan font-size="5.5" dy="-3.52">3</tspan></text>
<line x1="201.8" y1="294.14" x2="203.9" y2="294.14" stroke="#141414" stroke-width="0.9" stroke-linecap="butt"/>
<line x1="201.8" y1="290.48" x2="203.9" y2="290.48" stroke="#141414" stroke-width="0.9" stroke-linecap="butt"/>
<line x1="201.8" y1="287.88" x2="203.9" y2="287.88" stroke="#141414" stroke-width="0.9" stroke-linecap="butt"/>
<line x1="201.8" y1="285.86" x2="203.9" y2="285.86" stroke="#141414" stroke-width="0.9" stroke-linecap="butt"/>
<line x1="201.8" y1="284.21" x2="203.9" y2="284.21" stroke="#141414" stroke-width="0.9" stroke-linecap="butt"/>
<line x1="201.8" y1="282.82" x2="203.9" y2="282.82" stroke="#141414" stroke-width="0.9" stroke-linecap="butt"/>
<line x1="201.8" y1="281.62" x2="203.9" y2="281.62" stroke="#141414" stroke-width="0.9" stroke-linecap="butt"/>
<line x1="201.8" y1="280.55" x2="203.9" y2="280.55" stroke="#141414" stroke-width="0.9" stroke-linecap="butt"/>
<line x1="200.4" y1="300.4" x2="203.9" y2="300.4" stroke="#141414" stroke-width="1.1" stroke-linecap="butt"/>
<text x="196.9" y="304" font-size="7.9" text-anchor="end" fill="#1c1c1c" stroke="#1c1c1c" stroke-width="0.28">10<tspan font-size="5.5" dy="-3.52">2</tspan></text>
<line x1="201.8" y1="314.94" x2="203.9" y2="314.94" stroke="#141414" stroke-width="0.9" stroke-linecap="butt"/>
<line x1="201.8" y1="311.28" x2="203.9" y2="311.28" stroke="#141414" stroke-width="0.9" stroke-linecap="butt"/>
<line x1="201.8" y1="308.68" x2="203.9" y2="308.68" stroke="#141414" stroke-width="0.9" stroke-linecap="butt"/>
<line x1="201.8" y1="306.66" x2="203.9" y2="306.66" stroke="#141414" stroke-width="0.9" stroke-linecap="butt"/>
<line x1="201.8" y1="305.01" x2="203.9" y2="305.01" stroke="#141414" stroke-width="0.9" stroke-linecap="butt"/>
<line x1="201.8" y1="303.62" x2="203.9" y2="303.62" stroke="#141414" stroke-width="0.9" stroke-linecap="butt"/>
<line x1="201.8" y1="302.42" x2="203.9" y2="302.42" stroke="#141414" stroke-width="0.9" stroke-linecap="butt"/>
<line x1="201.8" y1="301.35" x2="203.9" y2="301.35" stroke="#141414" stroke-width="0.9" stroke-linecap="butt"/>
<line x1="200.4" y1="321.2" x2="203.9" y2="321.2" stroke="#141414" stroke-width="1.1" stroke-linecap="butt"/>
<text x="196.9" y="324.8" font-size="7.9" text-anchor="end" fill="#1c1c1c" stroke="#1c1c1c" stroke-width="0.28">10<tspan font-size="5.5" dy="-3.52">1</tspan></text>
<line x1="201.8" y1="335.74" x2="203.9" y2="335.74" stroke="#141414" stroke-width="0.9" stroke-linecap="butt"/>
<line x1="201.8" y1="332.08" x2="203.9" y2="332.08" stroke="#141414" stroke-width="0.9" stroke-linecap="butt"/>
<line x1="201.8" y1="329.48" x2="203.9" y2="329.48" stroke="#141414" stroke-width="0.9" stroke-linecap="butt"/>
<line x1="201.8" y1="327.46" x2="203.9" y2="327.46" stroke="#141414" stroke-width="0.9" stroke-linecap="butt"/>
<line x1="201.8" y1="325.81" x2="203.9" y2="325.81" stroke="#141414" stroke-width="0.9" stroke-linecap="butt"/>
<line x1="201.8" y1="324.42" x2="203.9" y2="324.42" stroke="#141414" stroke-width="0.9" stroke-linecap="butt"/>
<line x1="201.8" y1="323.22" x2="203.9" y2="323.22" stroke="#141414" stroke-width="0.9" stroke-linecap="butt"/>
<line x1="201.8" y1="322.15" x2="203.9" y2="322.15" stroke="#141414" stroke-width="0.9" stroke-linecap="butt"/>
<line x1="200.4" y1="342" x2="203.9" y2="342" stroke="#141414" stroke-width="1.1" stroke-linecap="butt"/>
<text x="196.9" y="345.6" font-size="7.9" text-anchor="end" fill="#1c1c1c" stroke="#1c1c1c" stroke-width="0.28">10<tspan font-size="5.5" dy="-3.52">0</tspan></text>
<line x1="201.8" y1="356.54" x2="203.9" y2="356.54" stroke="#141414" stroke-width="0.9" stroke-linecap="butt"/>
<line x1="201.8" y1="352.88" x2="203.9" y2="352.88" stroke="#141414" stroke-width="0.9" stroke-linecap="butt"/>
<line x1="201.8" y1="350.28" x2="203.9" y2="350.28" stroke="#141414" stroke-width="0.9" stroke-linecap="butt"/>
<line x1="201.8" y1="348.26" x2="203.9" y2="348.26" stroke="#141414" stroke-width="0.9" stroke-linecap="butt"/>
<line x1="201.8" y1="346.61" x2="203.9" y2="346.61" stroke="#141414" stroke-width="0.9" stroke-linecap="butt"/>
<line x1="201.8" y1="345.22" x2="203.9" y2="345.22" stroke="#141414" stroke-width="0.9" stroke-linecap="butt"/>
<line x1="201.8" y1="344.02" x2="203.9" y2="344.02" stroke="#141414" stroke-width="0.9" stroke-linecap="butt"/>
<line x1="201.8" y1="342.95" x2="203.9" y2="342.95" stroke="#141414" stroke-width="0.9" stroke-linecap="butt"/>
<line x1="200.4" y1="362.8" x2="203.9" y2="362.8" stroke="#141414" stroke-width="1.1" stroke-linecap="butt"/>
<text x="196.9" y="366.4" font-size="7.9" text-anchor="end" fill="#1c1c1c" stroke="#1c1c1c" stroke-width="0.28">10<tspan font-size="5.5" dy="-3.52">-1</tspan></text>
<line x1="201.8" y1="377.34" x2="203.9" y2="377.34" stroke="#141414" stroke-width="0.9" stroke-linecap="butt"/>
<line x1="201.8" y1="373.68" x2="203.9" y2="373.68" stroke="#141414" stroke-width="0.9" stroke-linecap="butt"/>
<line x1="201.8" y1="371.08" x2="203.9" y2="371.08" stroke="#141414" stroke-width="0.9" stroke-linecap="butt"/>
<line x1="201.8" y1="369.06" x2="203.9" y2="369.06" stroke="#141414" stroke-width="0.9" stroke-linecap="butt"/>
<line x1="201.8" y1="367.41" x2="203.9" y2="367.41" stroke="#141414" stroke-width="0.9" stroke-linecap="butt"/>
<line x1="201.8" y1="366.02" x2="203.9" y2="366.02" stroke="#141414" stroke-width="0.9" stroke-linecap="butt"/>
<line x1="201.8" y1="364.82" x2="203.9" y2="364.82" stroke="#141414" stroke-width="0.9" stroke-linecap="butt"/>
<line x1="201.8" y1="363.75" x2="203.9" y2="363.75" stroke="#141414" stroke-width="0.9" stroke-linecap="butt"/>
<line x1="200.4" y1="383.6" x2="203.9" y2="383.6" stroke="#141414" stroke-width="1.1" stroke-linecap="butt"/>
<text x="196.9" y="387.2" font-size="7.9" text-anchor="end" fill="#1c1c1c" stroke="#1c1c1c" stroke-width="0.28">10<tspan font-size="5.5" dy="-3.52">-2</tspan></text>
<line x1="201.8" y1="398.14" x2="203.9" y2="398.14" stroke="#141414" stroke-width="0.9" stroke-linecap="butt"/>
<line x1="201.8" y1="394.48" x2="203.9" y2="394.48" stroke="#141414" stroke-width="0.9" stroke-linecap="butt"/>
<line x1="201.8" y1="391.88" x2="203.9" y2="391.88" stroke="#141414" stroke-width="0.9" stroke-linecap="butt"/>
<line x1="201.8" y1="389.86" x2="203.9" y2="389.86" stroke="#141414" stroke-width="0.9" stroke-linecap="butt"/>
<line x1="201.8" y1="388.21" x2="203.9" y2="388.21" stroke="#141414" stroke-width="0.9" stroke-linecap="butt"/>
<line x1="201.8" y1="386.82" x2="203.9" y2="386.82" stroke="#141414" stroke-width="0.9" stroke-linecap="butt"/>
<line x1="201.8" y1="385.62" x2="203.9" y2="385.62" stroke="#141414" stroke-width="0.9" stroke-linecap="butt"/>
<line x1="201.8" y1="384.55" x2="203.9" y2="384.55" stroke="#141414" stroke-width="0.9" stroke-linecap="butt"/>
<line x1="200.4" y1="404.4" x2="203.9" y2="404.4" stroke="#141414" stroke-width="1.1" stroke-linecap="butt"/>
<text x="196.9" y="408" font-size="7.9" text-anchor="end" fill="#1c1c1c" stroke="#1c1c1c" stroke-width="0.28">10<tspan font-size="5.5" dy="-3.52">-3</tspan></text>
<line x1="217.7" y1="404.4" x2="217.7" y2="407.4" stroke="#141414" stroke-width="1.1" stroke-linecap="butt"/>
<text x="220.8" y="415.3" font-size="8.6" text-anchor="end" transform="rotate(-45 220.8 415.3)" fill="#1c1c1c" stroke="#1c1c1c" stroke-width="0.28">Healthy (n=21)</text>
<line x1="245" y1="404.4" x2="245" y2="407.4" stroke="#141414" stroke-width="1.1" stroke-linecap="butt"/>
<text x="248.1" y="415.3" font-size="8.6" text-anchor="end" transform="rotate(-45 248.1 415.3)" fill="#1c1c1c" stroke="#1c1c1c" stroke-width="0.28">CP Diag (n=71)</text>
<line x1="272" y1="404.4" x2="272" y2="407.4" stroke="#141414" stroke-width="1.1" stroke-linecap="butt"/>
<text x="275.1" y="415.3" font-size="8.6" text-anchor="end" transform="rotate(-45 275.1 415.3)" fill="#1c1c1c" stroke="#1c1c1c" stroke-width="0.28">CCyR (n=5)</text>
<line x1="298.5" y1="404.4" x2="298.5" y2="407.4" stroke="#141414" stroke-width="1.1" stroke-linecap="butt"/>
<text x="301.6" y="415.3" font-size="8.6" text-anchor="end" transform="rotate(-45 301.6 415.3)" fill="#1c1c1c" stroke="#1c1c1c" stroke-width="0.28">RES (n=28)</text>
<path d="M217.7 292 L217.7 273.5 L298.5 273.5 L298.5 277" fill="none" stroke="#141414" stroke-width="1.3" stroke-linejoin="miter" stroke-linecap="square"/>
<path d="M217.7 289 L245 289 L245 301.7" fill="none" stroke="#141414" stroke-width="1.3" stroke-linejoin="miter" stroke-linecap="square"/>
<circle cx="229" cy="282" r="1.15" fill="#141414"/>
<circle cx="233" cy="282" r="1.15" fill="#141414"/>
<circle cx="237" cy="282" r="1.15" fill="#141414"/>
<circle cx="259.2" cy="267.8" r="1.15" fill="#141414"/>
<circle cx="217.2" cy="302.9" r="2.3" fill="none" stroke="#a3153a" stroke-width="1.2"/>
<circle cx="221.8" cy="320.9" r="2.3" fill="none" stroke="#a3153a" stroke-width="1.2"/>
<circle cx="212.8" cy="323.4" r="2.3" fill="none" stroke="#a3153a" stroke-width="1.2"/>
<circle cx="217.5" cy="323.5" r="2.3" fill="none" stroke="#a3153a" stroke-width="1.2"/>
<circle cx="211.7" cy="327.9" r="2.3" fill="none" stroke="#a3153a" stroke-width="1.2"/>
<circle cx="216.2" cy="327.9" r="2.3" fill="none" stroke="#a3153a" stroke-width="1.2"/>
<circle cx="221.2" cy="327.6" r="2.3" fill="none" stroke="#a3153a" stroke-width="1.2"/>
<circle cx="210.6" cy="332.9" r="2.3" fill="none" stroke="#a3153a" stroke-width="1.2"/>
<circle cx="215.1" cy="333.5" r="2.3" fill="none" stroke="#a3153a" stroke-width="1.2"/>
<circle cx="219.5" cy="332.3" r="2.3" fill="none" stroke="#a3153a" stroke-width="1.2"/>
<circle cx="223.5" cy="334" r="2.3" fill="none" stroke="#a3153a" stroke-width="1.2"/>
<circle cx="212.8" cy="336.8" r="2.3" fill="none" stroke="#a3153a" stroke-width="1.2"/>
<circle cx="217.3" cy="337.2" r="2.3" fill="none" stroke="#a3153a" stroke-width="1.2"/>
<circle cx="221.8" cy="337.8" r="2.3" fill="none" stroke="#a3153a" stroke-width="1.2"/>
<circle cx="211.7" cy="341.3" r="2.3" fill="none" stroke="#a3153a" stroke-width="1.2"/>
<circle cx="216.2" cy="340.6" r="2.3" fill="none" stroke="#a3153a" stroke-width="1.2"/>
<circle cx="221.2" cy="341.2" r="2.3" fill="none" stroke="#a3153a" stroke-width="1.2"/>
<circle cx="213.9" cy="344.6" r="2.3" fill="none" stroke="#a3153a" stroke-width="1.2"/>
<circle cx="219" cy="344.6" r="2.3" fill="none" stroke="#a3153a" stroke-width="1.2"/>
<circle cx="215.8" cy="347.6" r="2.3" fill="none" stroke="#a3153a" stroke-width="1.2"/>
<circle cx="224.2" cy="329.5" r="2.3" fill="none" stroke="#a3153a" stroke-width="1.2"/>
<line x1="208.2" y1="325.1" x2="226.6" y2="325.1" stroke="#141414" stroke-width="1.3" stroke-linecap="butt"/>
<line x1="212.4" y1="322" x2="222.4" y2="322" stroke="#141414" stroke-width="1.3" stroke-linecap="butt"/>
<line x1="212.4" y1="328.3" x2="222.4" y2="328.3" stroke="#141414" stroke-width="1.3" stroke-linecap="butt"/>
<line x1="217.4" y1="322" x2="217.4" y2="328.3" stroke="#141414" stroke-width="1.3" stroke-linecap="butt"/>
<rect x="242.85" y="307.85" width="3.3" height="3.3" fill="#2b4a84"/>
<rect x="235.65" y="314.25" width="3.3" height="3.3" fill="#2b4a84"/>
<rect x="240.15" y="316.05" width="3.3" height="3.3" fill="#2b4a84"/>
<rect x="249.55" y="314.25" width="3.3" height="3.3" fill="#2b4a84"/>
<rect x="244.95" y="317.85" width="3.3" height="3.3" fill="#2b4a84"/>
<rect x="237.14" y="321.61" width="3.3" height="3.3" fill="#2b4a84"/>
<rect x="240.94" y="321.7" width="3.3" height="3.3" fill="#2b4a84"/>
<rect x="244.95" y="320.94" width="3.3" height="3.3" fill="#2b4a84"/>
<rect x="247.87" y="322.02" width="3.3" height="3.3" fill="#2b4a84"/>
<rect x="237.16" y="324.18" width="3.3" height="3.3" fill="#2b4a84"/>
<rect x="241.69" y="324.51" width="3.3" height="3.3" fill="#2b4a84"/>
<rect x="245.2" y="324.52" width="3.3" height="3.3" fill="#2b4a84"/>
<rect x="248.62" y="324.06" width="3.3" height="3.3" fill="#2b4a84"/>
<rect x="237.61" y="328.07" width="3.3" height="3.3" fill="#2b4a84"/>
<rect x="241.13" y="327.89" width="3.3" height="3.3" fill="#2b4a84"/>
<rect x="245.01" y="326.94" width="3.3" height="3.3" fill="#2b4a84"/>
<rect x="248.76" y="327.68" width="3.3" height="3.3" fill="#2b4a84"/>
<rect x="239.01" y="329.89" width="3.3" height="3.3" fill="#2b4a84"/>
<rect x="243.39" y="330.51" width="3.3" height="3.3" fill="#2b4a84"/>
<rect x="246.91" y="331.08" width="3.3" height="3.3" fill="#2b4a84"/>
<rect x="237.71" y="334.14" width="3.3" height="3.3" fill="#2b4a84"/>
<rect x="240.97" y="333.97" width="3.3" height="3.3" fill="#2b4a84"/>
<rect x="244.73" y="334.16" width="3.3" height="3.3" fill="#2b4a84"/>
<rect x="248.9" y="332.99" width="3.3" height="3.3" fill="#2b4a84"/>
<rect x="237.01" y="336.15" width="3.3" height="3.3" fill="#2b4a84"/>
<rect x="241.66" y="336.46" width="3.3" height="3.3" fill="#2b4a84"/>
<rect x="244.95" y="336.27" width="3.3" height="3.3" fill="#2b4a84"/>
<rect x="248.46" y="336.39" width="3.3" height="3.3" fill="#2b4a84"/>
<rect x="237.27" y="339.67" width="3.3" height="3.3" fill="#2b4a84"/>
<rect x="241.2" y="340.12" width="3.3" height="3.3" fill="#2b4a84"/>
<rect x="245.02" y="340.15" width="3.3" height="3.3" fill="#2b4a84"/>
<rect x="248.88" y="340.24" width="3.3" height="3.3" fill="#2b4a84"/>
<rect x="237.66" y="342.08" width="3.3" height="3.3" fill="#2b4a84"/>
<rect x="241.53" y="343.2" width="3.3" height="3.3" fill="#2b4a84"/>
<rect x="245.29" y="342.65" width="3.3" height="3.3" fill="#2b4a84"/>
<rect x="248.71" y="342.15" width="3.3" height="3.3" fill="#2b4a84"/>
<rect x="237.85" y="345.65" width="3.3" height="3.3" fill="#2b4a84"/>
<rect x="240.84" y="344.94" width="3.3" height="3.3" fill="#2b4a84"/>
<rect x="245.22" y="346.24" width="3.3" height="3.3" fill="#2b4a84"/>
<rect x="247.96" y="345.97" width="3.3" height="3.3" fill="#2b4a84"/>
<rect x="239.14" y="348.06" width="3.3" height="3.3" fill="#2b4a84"/>
<rect x="242.7" y="348.93" width="3.3" height="3.3" fill="#2b4a84"/>
<rect x="247.1" y="347.91" width="3.3" height="3.3" fill="#2b4a84"/>
<rect x="237.59" y="350.91" width="3.3" height="3.3" fill="#2b4a84"/>
<rect x="241.36" y="351.31" width="3.3" height="3.3" fill="#2b4a84"/>
<rect x="245.26" y="352.22" width="3.3" height="3.3" fill="#2b4a84"/>
<rect x="248.46" y="352.25" width="3.3" height="3.3" fill="#2b4a84"/>
<rect x="239.02" y="353.96" width="3.3" height="3.3" fill="#2b4a84"/>
<rect x="243.07" y="353.89" width="3.3" height="3.3" fill="#2b4a84"/>
<rect x="246.29" y="354.42" width="3.3" height="3.3" fill="#2b4a84"/>
<rect x="239.38" y="357.07" width="3.3" height="3.3" fill="#2b4a84"/>
<rect x="242.4" y="358.06" width="3.3" height="3.3" fill="#2b4a84"/>
<rect x="246.43" y="358.19" width="3.3" height="3.3" fill="#2b4a84"/>
<rect x="239.73" y="360.38" width="3.3" height="3.3" fill="#2b4a84"/>
<rect x="242.9" y="360.58" width="3.3" height="3.3" fill="#2b4a84"/>
<rect x="246.82" y="360.68" width="3.3" height="3.3" fill="#2b4a84"/>
<rect x="235.65" y="365.35" width="3.3" height="3.3" fill="#2b4a84"/>
<rect x="248.35" y="363.35" width="3.3" height="3.3" fill="#2b4a84"/>
<rect x="242.85" y="367.35" width="3.3" height="3.3" fill="#2b4a84"/>
<rect x="245.35" y="370.55" width="3.3" height="3.3" fill="#2b4a84"/>
<rect x="240.05" y="374.25" width="3.3" height="3.3" fill="#2b4a84"/>
<rect x="242.65" y="380.95" width="3.3" height="3.3" fill="#2b4a84"/>
<rect x="235.85" y="402.75" width="3.3" height="3.3" fill="#2b4a84"/>
<rect x="238.85" y="402.75" width="3.3" height="3.3" fill="#2b4a84"/>
<rect x="241.85" y="402.75" width="3.3" height="3.3" fill="#2b4a84"/>
<rect x="244.85" y="402.75" width="3.3" height="3.3" fill="#2b4a84"/>
<rect x="247.85" y="402.75" width="3.3" height="3.3" fill="#2b4a84"/>
<rect x="250.15" y="402.75" width="3.3" height="3.3" fill="#2b4a84"/>
<line x1="235.6" y1="332.6" x2="253.6" y2="332.6" stroke="#141414" stroke-width="1.3" stroke-linecap="butt"/>
<line x1="240.1" y1="330.6" x2="249.1" y2="330.6" stroke="#141414" stroke-width="1.3" stroke-linecap="butt"/>
<line x1="240.1" y1="334.8" x2="249.1" y2="334.8" stroke="#141414" stroke-width="1.3" stroke-linecap="butt"/>
<line x1="244.6" y1="330.6" x2="244.6" y2="334.8" stroke="#141414" stroke-width="1.3" stroke-linecap="butt"/>
<path d="M275.8 318.3L278.2 320.7L275.8 323.1L273.4 320.7Z" fill="none" stroke="#d6a03c" stroke-width="1.0"/>
<path d="M267.2 339.4L269.6 341.8L267.2 344.2L264.8 341.8Z" fill="none" stroke="#d6a03c" stroke-width="1.0"/>
<path d="M275.6 339.4L278 341.8L275.6 344.2L273.2 341.8Z" fill="none" stroke="#d6a03c" stroke-width="1.0"/>
<path d="M267.4 324.4L269.8 326.8L267.4 329.2L265 326.8Z" fill="none" stroke="#d6a03c" stroke-width="1.0"/>
<path d="M276.2 327.8L278.6 330.2L276.2 332.6L273.8 330.2Z" fill="none" stroke="#d6a03c" stroke-width="1.0"/>
<line x1="262.7" y1="328.2" x2="280.5" y2="328.2" stroke="#141414" stroke-width="1.3" stroke-linecap="butt"/>
<line x1="267" y1="325.3" x2="276.2" y2="325.3" stroke="#141414" stroke-width="1.3" stroke-linecap="butt"/>
<line x1="267" y1="332.8" x2="276.2" y2="332.8" stroke="#141414" stroke-width="1.3" stroke-linecap="butt"/>
<line x1="271.6" y1="325.3" x2="271.6" y2="332.8" stroke="#141414" stroke-width="1.3" stroke-linecap="butt"/>
<path d="M298.5 277.95L301.05 280.5L298.5 283.05L295.95 280.5Z" fill="#3f2258"/>
<path d="M302.8 292.15L305.35 294.7L302.8 297.25L300.25 294.7Z" fill="#3f2258"/>
<path d="M290 296.05L292.55 298.6L290 301.15L287.45 298.6Z" fill="#3f2258"/>
<path d="M294.3 299.45L296.85 302L294.3 304.55L291.75 302Z" fill="#3f2258"/>
<path d="M302.1 307.25L304.65 309.8L302.1 312.35L299.55 309.8Z" fill="#3f2258"/>
<path d="M294.6 322.65L297.15 325.2L294.6 327.75L292.05 325.2Z" fill="#3f2258"/>
<path d="M302.8 321.45L305.35 324L302.8 326.55L300.25 324Z" fill="#3f2258"/>
<path d="M301 324.45L303.55 327L301 329.55L298.45 327Z" fill="#3f2258"/>
<path d="M296.4 328.45L298.95 331L296.4 333.55L293.85 331Z" fill="#3f2258"/>
<path d="M298.5 338.45L301.05 341L298.5 343.55L295.95 341Z" fill="#3f2258"/>
<path d="M293.4 341.45L295.95 344L293.4 346.55L290.85 344Z" fill="#3f2258"/>
<path d="M296.1 344.15L298.65 346.7L296.1 349.25L293.55 346.7Z" fill="#3f2258"/>
<path d="M303.4 343.85L305.95 346.4L303.4 348.95L300.85 346.4Z" fill="#3f2258"/>
<path d="M298.8 337.95L301.35 340.5L298.8 343.05L296.25 340.5Z" fill="#3f2258"/>
<path d="M293.5 341.65L296.05 344.2L293.5 346.75L290.95 344.2Z" fill="#3f2258"/>
<path d="M298.8 346.45L301.35 349L298.8 351.55L296.25 349Z" fill="#3f2258"/>
<path d="M303.6 344.35L306.15 346.9L303.6 349.45L301.05 346.9Z" fill="#3f2258"/>
<path d="M294.6 353.35L297.15 355.9L294.6 358.45L292.05 355.9Z" fill="#3f2258"/>
<path d="M293.5 361.25L296.05 363.8L293.5 366.35L290.95 363.8Z" fill="#3f2258"/>
<path d="M296.7 359.65L299.25 362.2L296.7 364.75L294.15 362.2Z" fill="#3f2258"/>
<path d="M303 357.55L305.55 360.1L303 362.65L300.45 360.1Z" fill="#3f2258"/>
<path d="M304.1 361.75L306.65 364.3L304.1 366.85L301.55 364.3Z" fill="#3f2258"/>
<path d="M295.6 367.05L298.15 369.6L295.6 372.15L293.05 369.6Z" fill="#3f2258"/>
<path d="M298.8 369.65L301.35 372.2L298.8 374.75L296.25 372.2Z" fill="#3f2258"/>
<path d="M302 369.15L304.55 371.7L302 374.25L299.45 371.7Z" fill="#3f2258"/>
<path d="M298.8 381.85L301.35 384.4L298.8 386.95L296.25 384.4Z" fill="#3f2258"/>
<path d="M294 401.85L296.55 404.4L294 406.95L291.45 404.4Z" fill="#3f2258"/>
<path d="M298.4 401.85L300.95 404.4L298.4 406.95L295.85 404.4Z" fill="#3f2258"/>
<path d="M303 401.85L305.55 404.4L303 406.95L300.45 404.4Z" fill="#3f2258"/>
<line x1="289.2" y1="307.1" x2="307.4" y2="307.1" stroke="#141414" stroke-width="1.3" stroke-linecap="butt"/>
<line x1="293.15" y1="302.3" x2="303.45" y2="302.3" stroke="#141414" stroke-width="1.3" stroke-linecap="butt"/>
<line x1="293.15" y1="317.4" x2="303.45" y2="317.4" stroke="#141414" stroke-width="1.3" stroke-linecap="butt"/>
<line x1="298.3" y1="302.3" x2="298.3" y2="317.4" stroke="#141414" stroke-width="1.3" stroke-linecap="butt"/>
<text x="329" y="245" font-size="12.2" text-anchor="start" font-weight="bold" fill="#0a0a0a">E</text>
<text x="336.8" y="340.8" font-size="9.6" text-anchor="middle" transform="rotate(-90 336.8 340.8)" fill="#1c1c1c" stroke="#1c1c1c" stroke-width="0.28">Arbitrary unit</text>
<line x1="365.6" y1="278" x2="365.6" y2="405.1" stroke="#141414" stroke-width="1.6" stroke-linecap="butt"/>
<line x1="364.8" y1="404.3" x2="471.2" y2="404.3" stroke="#141414" stroke-width="1.6" stroke-linecap="butt"/>
<line x1="362.1" y1="281.3" x2="365.6" y2="281.3" stroke="#141414" stroke-width="1.1" stroke-linecap="butt"/>
<text x="358.3" y="284.8" font-size="7.7" text-anchor="end" fill="#1c1c1c" stroke="#1c1c1c" stroke-width="0.28">10<tspan font-size="5.4" dy="-3.46">3</tspan></text>
<line x1="363.5" y1="295.63" x2="365.6" y2="295.63" stroke="#141414" stroke-width="0.9" stroke-linecap="butt"/>
<line x1="363.5" y1="292.02" x2="365.6" y2="292.02" stroke="#141414" stroke-width="0.9" stroke-linecap="butt"/>
<line x1="363.5" y1="289.46" x2="365.6" y2="289.46" stroke="#141414" stroke-width="0.9" stroke-linecap="butt"/>
<line x1="363.5" y1="287.47" x2="365.6" y2="287.47" stroke="#141414" stroke-width="0.9" stroke-linecap="butt"/>
<line x1="363.5" y1="285.85" x2="365.6" y2="285.85" stroke="#141414" stroke-width="0.9" stroke-linecap="butt"/>
<line x1="363.5" y1="284.48" x2="365.6" y2="284.48" stroke="#141414" stroke-width="0.9" stroke-linecap="butt"/>
<line x1="363.5" y1="283.29" x2="365.6" y2="283.29" stroke="#141414" stroke-width="0.9" stroke-linecap="butt"/>
<line x1="363.5" y1="282.24" x2="365.6" y2="282.24" stroke="#141414" stroke-width="0.9" stroke-linecap="butt"/>
<line x1="362.1" y1="301.8" x2="365.6" y2="301.8" stroke="#141414" stroke-width="1.1" stroke-linecap="butt"/>
<text x="358.3" y="307.8" font-size="7.7" text-anchor="end" fill="#1c1c1c" stroke="#1c1c1c" stroke-width="0.28">10<tspan font-size="5.4" dy="-3.46">2</tspan></text>
<line x1="363.5" y1="316.13" x2="365.6" y2="316.13" stroke="#141414" stroke-width="0.9" stroke-linecap="butt"/>
<line x1="363.5" y1="312.52" x2="365.6" y2="312.52" stroke="#141414" stroke-width="0.9" stroke-linecap="butt"/>
<line x1="363.5" y1="309.96" x2="365.6" y2="309.96" stroke="#141414" stroke-width="0.9" stroke-linecap="butt"/>
<line x1="363.5" y1="307.97" x2="365.6" y2="307.97" stroke="#141414" stroke-width="0.9" stroke-linecap="butt"/>
<line x1="363.5" y1="306.35" x2="365.6" y2="306.35" stroke="#141414" stroke-width="0.9" stroke-linecap="butt"/>
<line x1="363.5" y1="304.98" x2="365.6" y2="304.98" stroke="#141414" stroke-width="0.9" stroke-linecap="butt"/>
<line x1="363.5" y1="303.79" x2="365.6" y2="303.79" stroke="#141414" stroke-width="0.9" stroke-linecap="butt"/>
<line x1="363.5" y1="302.74" x2="365.6" y2="302.74" stroke="#141414" stroke-width="0.9" stroke-linecap="butt"/>
<line x1="362.1" y1="322.3" x2="365.6" y2="322.3" stroke="#141414" stroke-width="1.1" stroke-linecap="butt"/>
<text x="358.3" y="327.9" font-size="7.7" text-anchor="end" fill="#1c1c1c" stroke="#1c1c1c" stroke-width="0.28">10<tspan font-size="5.4" dy="-3.46">1</tspan></text>
<line x1="363.5" y1="336.63" x2="365.6" y2="336.63" stroke="#141414" stroke-width="0.9" stroke-linecap="butt"/>
<line x1="363.5" y1="333.02" x2="365.6" y2="333.02" stroke="#141414" stroke-width="0.9" stroke-linecap="butt"/>
<line x1="363.5" y1="330.46" x2="365.6" y2="330.46" stroke="#141414" stroke-width="0.9" stroke-linecap="butt"/>
<line x1="363.5" y1="328.47" x2="365.6" y2="328.47" stroke="#141414" stroke-width="0.9" stroke-linecap="butt"/>
<line x1="363.5" y1="326.85" x2="365.6" y2="326.85" stroke="#141414" stroke-width="0.9" stroke-linecap="butt"/>
<line x1="363.5" y1="325.48" x2="365.6" y2="325.48" stroke="#141414" stroke-width="0.9" stroke-linecap="butt"/>
<line x1="363.5" y1="324.29" x2="365.6" y2="324.29" stroke="#141414" stroke-width="0.9" stroke-linecap="butt"/>
<line x1="363.5" y1="323.24" x2="365.6" y2="323.24" stroke="#141414" stroke-width="0.9" stroke-linecap="butt"/>
<line x1="362.1" y1="342.8" x2="365.6" y2="342.8" stroke="#141414" stroke-width="1.1" stroke-linecap="butt"/>
<text x="358.3" y="347.4" font-size="7.7" text-anchor="end" fill="#1c1c1c" stroke="#1c1c1c" stroke-width="0.28">10<tspan font-size="5.4" dy="-3.46">0</tspan></text>
<line x1="363.5" y1="357.13" x2="365.6" y2="357.13" stroke="#141414" stroke-width="0.9" stroke-linecap="butt"/>
<line x1="363.5" y1="353.52" x2="365.6" y2="353.52" stroke="#141414" stroke-width="0.9" stroke-linecap="butt"/>
<line x1="363.5" y1="350.96" x2="365.6" y2="350.96" stroke="#141414" stroke-width="0.9" stroke-linecap="butt"/>
<line x1="363.5" y1="348.97" x2="365.6" y2="348.97" stroke="#141414" stroke-width="0.9" stroke-linecap="butt"/>
<line x1="363.5" y1="347.35" x2="365.6" y2="347.35" stroke="#141414" stroke-width="0.9" stroke-linecap="butt"/>
<line x1="363.5" y1="345.98" x2="365.6" y2="345.98" stroke="#141414" stroke-width="0.9" stroke-linecap="butt"/>
<line x1="363.5" y1="344.79" x2="365.6" y2="344.79" stroke="#141414" stroke-width="0.9" stroke-linecap="butt"/>
<line x1="363.5" y1="343.74" x2="365.6" y2="343.74" stroke="#141414" stroke-width="0.9" stroke-linecap="butt"/>
<line x1="362.1" y1="363.3" x2="365.6" y2="363.3" stroke="#141414" stroke-width="1.1" stroke-linecap="butt"/>
<text x="358.3" y="368" font-size="7.7" text-anchor="end" fill="#1c1c1c" stroke="#1c1c1c" stroke-width="0.28">10<tspan font-size="5.4" dy="-3.46">-1</tspan></text>
<line x1="363.5" y1="377.63" x2="365.6" y2="377.63" stroke="#141414" stroke-width="0.9" stroke-linecap="butt"/>
<line x1="363.5" y1="374.02" x2="365.6" y2="374.02" stroke="#141414" stroke-width="0.9" stroke-linecap="butt"/>
<line x1="363.5" y1="371.46" x2="365.6" y2="371.46" stroke="#141414" stroke-width="0.9" stroke-linecap="butt"/>
<line x1="363.5" y1="369.47" x2="365.6" y2="369.47" stroke="#141414" stroke-width="0.9" stroke-linecap="butt"/>
<line x1="363.5" y1="367.85" x2="365.6" y2="367.85" stroke="#141414" stroke-width="0.9" stroke-linecap="butt"/>
<line x1="363.5" y1="366.48" x2="365.6" y2="366.48" stroke="#141414" stroke-width="0.9" stroke-linecap="butt"/>
<line x1="363.5" y1="365.29" x2="365.6" y2="365.29" stroke="#141414" stroke-width="0.9" stroke-linecap="butt"/>
<line x1="363.5" y1="364.24" x2="365.6" y2="364.24" stroke="#141414" stroke-width="0.9" stroke-linecap="butt"/>
<line x1="362.1" y1="383.8" x2="365.6" y2="383.8" stroke="#141414" stroke-width="1.1" stroke-linecap="butt"/>
<text x="358.3" y="388.1" font-size="7.7" text-anchor="end" fill="#1c1c1c" stroke="#1c1c1c" stroke-width="0.28">10<tspan font-size="5.4" dy="-3.46">-2</tspan></text>
<line x1="363.5" y1="398.13" x2="365.6" y2="398.13" stroke="#141414" stroke-width="0.9" stroke-linecap="butt"/>
<line x1="363.5" y1="394.52" x2="365.6" y2="394.52" stroke="#141414" stroke-width="0.9" stroke-linecap="butt"/>
<line x1="363.5" y1="391.96" x2="365.6" y2="391.96" stroke="#141414" stroke-width="0.9" stroke-linecap="butt"/>
<line x1="363.5" y1="389.97" x2="365.6" y2="389.97" stroke="#141414" stroke-width="0.9" stroke-linecap="butt"/>
<line x1="363.5" y1="388.35" x2="365.6" y2="388.35" stroke="#141414" stroke-width="0.9" stroke-linecap="butt"/>
<line x1="363.5" y1="386.98" x2="365.6" y2="386.98" stroke="#141414" stroke-width="0.9" stroke-linecap="butt"/>
<line x1="363.5" y1="385.79" x2="365.6" y2="385.79" stroke="#141414" stroke-width="0.9" stroke-linecap="butt"/>
<line x1="363.5" y1="384.74" x2="365.6" y2="384.74" stroke="#141414" stroke-width="0.9" stroke-linecap="butt"/>
<line x1="362.1" y1="404.3" x2="365.6" y2="404.3" stroke="#141414" stroke-width="1.1" stroke-linecap="butt"/>
<text x="358.3" y="408.2" font-size="7.7" text-anchor="end" fill="#1c1c1c" stroke="#1c1c1c" stroke-width="0.28">10<tspan font-size="5.4" dy="-3.46">-3</tspan></text>
<line x1="379" y1="404.3" x2="379" y2="407.3" stroke="#141414" stroke-width="1.1" stroke-linecap="butt"/>
<text x="381.4" y="414.4" font-size="8.6" text-anchor="end" transform="rotate(-45 381.4 414.4)" fill="#1c1c1c" stroke="#1c1c1c" stroke-width="0.28">Healthy (n=20)</text>
<line x1="405.5" y1="404.3" x2="405.5" y2="407.3" stroke="#141414" stroke-width="1.1" stroke-linecap="butt"/>
<text x="407.9" y="414.4" font-size="8.6" text-anchor="end" transform="rotate(-45 407.9 414.4)" fill="#1c1c1c" stroke="#1c1c1c" stroke-width="0.28">CP Diag (n=78)</text>
<line x1="432" y1="404.3" x2="432" y2="407.3" stroke="#141414" stroke-width="1.1" stroke-linecap="butt"/>
<text x="434.4" y="414.4" font-size="8.6" text-anchor="end" transform="rotate(-45 434.4 414.4)" fill="#1c1c1c" stroke="#1c1c1c" stroke-width="0.28">CCyR (n=5)</text>
<line x1="458.3" y1="404.3" x2="458.3" y2="407.3" stroke="#141414" stroke-width="1.1" stroke-linecap="butt"/>
<text x="460.7" y="414.4" font-size="8.6" text-anchor="end" transform="rotate(-45 460.7 414.4)" fill="#1c1c1c" stroke="#1c1c1c" stroke-width="0.28">RES (n=29)</text>
<path d="M381.2 296.2 L381.2 267" fill="none" stroke="#141414" stroke-width="1.3" stroke-linejoin="miter" stroke-linecap="square"/>
<path d="M381.2 293.3 L405.5 293.3 L405.5 300.8" fill="none" stroke="#141414" stroke-width="1.3" stroke-linejoin="miter" stroke-linecap="square"/>
<path d="M381.2 280 L432 280 L432 318" fill="none" stroke="#141414" stroke-width="1.3" stroke-linejoin="miter" stroke-linecap="square"/>
<path d="M381.2 267 L458.3 267 L458.3 281" fill="none" stroke="#141414" stroke-width="1.3" stroke-linejoin="miter" stroke-linecap="square"/>
<path d="M404 262.6 L404 253 L458.3 253 L458.3 267" fill="none" stroke="#141414" stroke-width="1.3" stroke-linejoin="miter" stroke-linecap="square"/>
<circle cx="389.15" cy="288.6" r="1.15" fill="#141414"/>
<circle cx="393.05" cy="288.6" r="1.15" fill="#141414"/>
<circle cx="396.95" cy="288.6" r="1.15" fill="#141414"/>
<circle cx="400.85" cy="288.6" r="1.15" fill="#141414"/>
<circle cx="407.2" cy="275" r="1.15" fill="#141414"/>
<circle cx="411.4" cy="275" r="1.15" fill="#141414"/>
<circle cx="422.2" cy="261.4" r="1.15" fill="#141414"/>
<circle cx="426.4" cy="261.4" r="1.15" fill="#141414"/>
<circle cx="428.2" cy="247.6" r="1.15" fill="#141414"/>
<circle cx="432.2" cy="247.6" r="1.15" fill="#141414"/>
<circle cx="436.2" cy="247.6" r="1.15" fill="#141414"/>
<circle cx="378.8" cy="304.4" r="2.3" fill="none" stroke="#8c1f3e" stroke-width="1.2"/>
<circle cx="374.7" cy="328.6" r="2.3" fill="none" stroke="#8c1f3e" stroke-width="1.2"/>
<circle cx="383" cy="335.8" r="2.3" fill="none" stroke="#8c1f3e" stroke-width="1.2"/>
<circle cx="378.4" cy="404.3" r="2.3" fill="none" stroke="#8c1f3e" stroke-width="1.2"/>
<circle cx="372.8" cy="315" r="2.3" fill="none" stroke="#8c1f3e" stroke-width="1.2"/>
<circle cx="376.2" cy="315" r="2.3" fill="none" stroke="#8c1f3e" stroke-width="1.2"/>
<circle cx="382" cy="315" r="2.3" fill="none" stroke="#8c1f3e" stroke-width="1.2"/>
<circle cx="385.4" cy="315" r="2.3" fill="none" stroke="#8c1f3e" stroke-width="1.2"/>
<circle cx="371.2" cy="318.3" r="2.3" fill="none" stroke="#8c1f3e" stroke-width="1.2"/>
<circle cx="374.6" cy="318.3" r="2.3" fill="none" stroke="#8c1f3e" stroke-width="1.2"/>
<circle cx="378" cy="318.3" r="2.3" fill="none" stroke="#8c1f3e" stroke-width="1.2"/>
<circle cx="381.4" cy="318.3" r="2.3" fill="none" stroke="#8c1f3e" stroke-width="1.2"/>
<circle cx="384.8" cy="318.3" r="2.3" fill="none" stroke="#8c1f3e" stroke-width="1.2"/>
<circle cx="387.6" cy="318.3" r="2.3" fill="none" stroke="#8c1f3e" stroke-width="1.2"/>
<circle cx="372.6" cy="321.4" r="2.3" fill="none" stroke="#8c1f3e" stroke-width="1.2"/>
<circle cx="376" cy="321.4" r="2.3" fill="none" stroke="#8c1f3e" stroke-width="1.2"/>
<circle cx="379.4" cy="321.4" r="2.3" fill="none" stroke="#8c1f3e" stroke-width="1.2"/>
<circle cx="382.8" cy="321.4" r="2.3" fill="none" stroke="#8c1f3e" stroke-width="1.2"/>
<circle cx="386.2" cy="321.4" r="2.3" fill="none" stroke="#8c1f3e" stroke-width="1.2"/>
<circle cx="375" cy="324.4" r="2.3" fill="none" stroke="#8c1f3e" stroke-width="1.2"/>
<circle cx="378.4" cy="324.4" r="2.3" fill="none" stroke="#8c1f3e" stroke-width="1.2"/>
<circle cx="381.8" cy="324.4" r="2.3" fill="none" stroke="#8c1f3e" stroke-width="1.2"/>
<circle cx="377.2" cy="327" r="2.3" fill="none" stroke="#8c1f3e" stroke-width="1.2"/>
<circle cx="380.6" cy="327" r="2.3" fill="none" stroke="#8c1f3e" stroke-width="1.2"/>
<line x1="370.1" y1="319" x2="388.1" y2="319" stroke="#141414" stroke-width="1.3" stroke-linecap="butt"/>
<line x1="374.35" y1="316.5" x2="383.85" y2="316.5" stroke="#141414" stroke-width="1.3" stroke-linecap="butt"/>
<line x1="374.35" y1="322.3" x2="383.85" y2="322.3" stroke="#141414" stroke-width="1.3" stroke-linecap="butt"/>
<line x1="379.1" y1="316.5" x2="379.1" y2="322.3" stroke="#141414" stroke-width="1.3" stroke-linecap="butt"/>
<rect x="403.85" y="305.95" width="3.3" height="3.3" fill="#2b4a84"/>
<rect x="403.85" y="316.35" width="3.3" height="3.3" fill="#2b4a84"/>
<rect x="403.85" y="392.15" width="3.3" height="3.3" fill="#2b4a84"/>
<rect x="397.37" y="323.53" width="3.3" height="3.3" fill="#2b4a84"/>
<rect x="401.8" y="323.44" width="3.3" height="3.3" fill="#2b4a84"/>
<rect x="405.89" y="323.79" width="3.3" height="3.3" fill="#2b4a84"/>
<rect x="409.51" y="323.96" width="3.3" height="3.3" fill="#2b4a84"/>
<rect x="396.89" y="326.97" width="3.3" height="3.3" fill="#2b4a84"/>
<rect x="400.12" y="326.56" width="3.3" height="3.3" fill="#2b4a84"/>
<rect x="403.67" y="327.44" width="3.3" height="3.3" fill="#2b4a84"/>
<rect x="406.57" y="326.72" width="3.3" height="3.3" fill="#2b4a84"/>
<rect x="410.28" y="327.59" width="3.3" height="3.3" fill="#2b4a84"/>
<rect x="397.63" y="330.03" width="3.3" height="3.3" fill="#2b4a84"/>
<rect x="402.13" y="329.61" width="3.3" height="3.3" fill="#2b4a84"/>
<rect x="406.21" y="329.9" width="3.3" height="3.3" fill="#2b4a84"/>
<rect x="409.59" y="329.69" width="3.3" height="3.3" fill="#2b4a84"/>
<rect x="399.66" y="333.63" width="3.3" height="3.3" fill="#2b4a84"/>
<rect x="403.43" y="333.35" width="3.3" height="3.3" fill="#2b4a84"/>
<rect x="407.79" y="333.1" width="3.3" height="3.3" fill="#2b4a84"/>
<rect x="398.2" y="335.83" width="3.3" height="3.3" fill="#2b4a84"/>
<rect x="401.41" y="336" width="3.3" height="3.3" fill="#2b4a84"/>
<rect x="405.83" y="336.26" width="3.3" height="3.3" fill="#2b4a84"/>
<rect x="409.16" y="336.45" width="3.3" height="3.3" fill="#2b4a84"/>
<rect x="399.8" y="339.21" width="3.3" height="3.3" fill="#2b4a84"/>
<rect x="404.04" y="339.69" width="3.3" height="3.3" fill="#2b4a84"/>
<rect x="407.39" y="339.54" width="3.3" height="3.3" fill="#2b4a84"/>
<rect x="398.18" y="343" width="3.3" height="3.3" fill="#2b4a84"/>
<rect x="402.08" y="342.3" width="3.3" height="3.3" fill="#2b4a84"/>
<rect x="406.13" y="342.09" width="3.3" height="3.3" fill="#2b4a84"/>
<rect x="409.27" y="342.86" width="3.3" height="3.3" fill="#2b4a84"/>
<rect x="399.5" y="345.64" width="3.3" height="3.3" fill="#2b4a84"/>
<rect x="403.29" y="345.85" width="3.3" height="3.3" fill="#2b4a84"/>
<rect x="407.91" y="345.74" width="3.3" height="3.3" fill="#2b4a84"/>
<rect x="398.53" y="348.53" width="3.3" height="3.3" fill="#2b4a84"/>
<rect x="402.05" y="348.86" width="3.3" height="3.3" fill="#2b4a84"/>
<rect x="405.73" y="348.7" width="3.3" height="3.3" fill="#2b4a84"/>
<rect x="409.69" y="349.28" width="3.3" height="3.3" fill="#2b4a84"/>
<rect x="399.82" y="352.05" width="3.3" height="3.3" fill="#2b4a84"/>
<rect x="403.31" y="352.09" width="3.3" height="3.3" fill="#2b4a84"/>
<rect x="407.8" y="352.44" width="3.3" height="3.3" fill="#2b4a84"/>
<rect x="398.07" y="354.69" width="3.3" height="3.3" fill="#2b4a84"/>
<rect x="401.64" y="355.15" width="3.3" height="3.3" fill="#2b4a84"/>
<rect x="405.27" y="354.9" width="3.3" height="3.3" fill="#2b4a84"/>
<rect x="409.42" y="354.49" width="3.3" height="3.3" fill="#2b4a84"/>
<rect x="397.31" y="358.37" width="3.3" height="3.3" fill="#2b4a84"/>
<rect x="401.38" y="357.75" width="3.3" height="3.3" fill="#2b4a84"/>
<rect x="405.64" y="358.5" width="3.3" height="3.3" fill="#2b4a84"/>
<rect x="409.33" y="357.99" width="3.3" height="3.3" fill="#2b4a84"/>
<rect x="397.8" y="361.61" width="3.3" height="3.3" fill="#2b4a84"/>
<rect x="402.07" y="361.59" width="3.3" height="3.3" fill="#2b4a84"/>
<rect x="405.53" y="361.05" width="3.3" height="3.3" fill="#2b4a84"/>
<rect x="409.61" y="361.61" width="3.3" height="3.3" fill="#2b4a84"/>
<rect x="397.15" y="359.85" width="3.3" height="3.3" fill="#2b4a84"/>
<rect x="410.55" y="359.85" width="3.3" height="3.3" fill="#2b4a84"/>
<rect x="401.45" y="363.95" width="3.3" height="3.3" fill="#2b4a84"/>
<rect x="396.85" y="402.65" width="3.3" height="3.3" fill="#2b4a84"/>
<rect x="399.85" y="402.65" width="3.3" height="3.3" fill="#2b4a84"/>
<rect x="402.85" y="402.65" width="3.3" height="3.3" fill="#2b4a84"/>
<rect x="405.85" y="402.65" width="3.3" height="3.3" fill="#2b4a84"/>
<rect x="408.85" y="402.65" width="3.3" height="3.3" fill="#2b4a84"/>
<rect x="411.15" y="402.65" width="3.3" height="3.3" fill="#2b4a84"/>
<line x1="396.2" y1="335.7" x2="414.2" y2="335.7" stroke="#141414" stroke-width="1.3" stroke-linecap="butt"/>
<line x1="400.7" y1="333.4" x2="409.7" y2="333.4" stroke="#141414" stroke-width="1.3" stroke-linecap="butt"/>
<line x1="400.7" y1="338" x2="409.7" y2="338" stroke="#141414" stroke-width="1.3" stroke-linecap="butt"/>
<line x1="405.2" y1="333.4" x2="405.2" y2="338" stroke="#141414" stroke-width="1.3" stroke-linecap="butt"/>
<path d="M435.5 320.6L437.9 323L435.5 325.4L433.1 323Z" fill="none" stroke="#d6a03c" stroke-width="1.0"/>
<path d="M427.5 324.6L429.9 327L427.5 329.4L425.1 327Z" fill="none" stroke="#d6a03c" stroke-width="1.0"/>
<path d="M427.5 341.4L429.9 343.8L427.5 346.2L425.1 343.8Z" fill="none" stroke="#d6a03c" stroke-width="1.0"/>
<path d="M435.5 348.1L437.9 350.5L435.5 352.9L433.1 350.5Z" fill="none" stroke="#d6a03c" stroke-width="1.0"/>
<path d="M432 357.1L434.4 359.5L432 361.9L429.6 359.5Z" fill="none" stroke="#d6a03c" stroke-width="1.0"/>
<line x1="423.1" y1="332.5" x2="440.9" y2="332.5" stroke="#141414" stroke-width="1.3" stroke-linecap="butt"/>
<line x1="427.4" y1="328.8" x2="436.6" y2="328.8" stroke="#141414" stroke-width="1.3" stroke-linecap="butt"/>
<line x1="427.4" y1="339.5" x2="436.6" y2="339.5" stroke="#141414" stroke-width="1.3" stroke-linecap="butt"/>
<line x1="432" y1="328.8" x2="432" y2="339.5" stroke="#141414" stroke-width="1.3" stroke-linecap="butt"/>
<path d="M453.8 288.75L456.35 291.3L453.8 293.85L451.25 291.3Z" fill="#3f2258"/>
<path d="M462.3 295.05L464.85 297.6L462.3 300.15L459.75 297.6Z" fill="#3f2258"/>
<path d="M453.2 307.15L455.75 309.7L453.2 312.25L450.65 309.7Z" fill="#3f2258"/>
<path d="M458.3 307.85L460.85 310.4L458.3 312.95L455.75 310.4Z" fill="#3f2258"/>
<path d="M463.4 307.15L465.95 309.7L463.4 312.25L460.85 309.7Z" fill="#3f2258"/>
<path d="M453.3 319.35L455.85 321.9L453.3 324.45L450.75 321.9Z" fill="#3f2258"/>
<path d="M462.3 319.35L464.85 321.9L462.3 324.45L459.75 321.9Z" fill="#3f2258"/>
<path d="M460.7 321.75L463.25 324.3L460.7 326.85L458.15 324.3Z" fill="#3f2258"/>
<path d="M454.8 325.75L457.35 328.3L454.8 330.85L452.25 328.3Z" fill="#3f2258"/>
<path d="M457.2 327.95L459.75 330.5L457.2 333.05L454.65 330.5Z" fill="#3f2258"/>
<path d="M463.3 327.75L465.85 330.3L463.3 332.85L460.75 330.3Z" fill="#3f2258"/>
<path d="M453.8 335.25L456.35 337.8L453.8 340.35L451.25 337.8Z" fill="#3f2258"/>
<path d="M460.7 333.65L463.25 336.2L460.7 338.75L458.15 336.2Z" fill="#3f2258"/>
<path d="M462.8 336.25L465.35 338.8L462.8 341.35L460.25 338.8Z" fill="#3f2258"/>
<path d="M452.8 340.45L455.35 343L452.8 345.55L450.25 343Z" fill="#3f2258"/>
<path d="M463.3 341.05L465.85 343.6L463.3 346.15L460.75 343.6Z" fill="#3f2258"/>
<path d="M457 343.65L459.55 346.2L457 348.75L454.45 346.2Z" fill="#3f2258"/>
<path d="M460.2 344.15L462.75 346.7L460.2 349.25L457.65 346.7Z" fill="#3f2258"/>
<path d="M455.8 333.95L458.35 336.5L455.8 339.05L453.25 336.5Z" fill="#3f2258"/>
<path d="M453 401.75L455.55 404.3L453 406.85L450.45 404.3Z" fill="#3f2258"/>
<path d="M456 401.75L458.55 404.3L456 406.85L453.45 404.3Z" fill="#3f2258"/>
<path d="M459 401.75L461.55 404.3L459 406.85L456.45 404.3Z" fill="#3f2258"/>
<path d="M462 401.75L464.55 404.3L462 406.85L459.45 404.3Z" fill="#3f2258"/>
<path d="M464 401.75L466.55 404.3L464 406.85L461.45 404.3Z" fill="#3f2258"/>
<line x1="449.4" y1="294.7" x2="467.4" y2="294.7" stroke="#141414" stroke-width="1.3" stroke-linecap="butt"/>
<line x1="453.3" y1="289.3" x2="463.5" y2="289.3" stroke="#141414" stroke-width="1.3" stroke-linecap="butt"/>
<line x1="453.3" y1="314.5" x2="463.5" y2="314.5" stroke="#141414" stroke-width="1.3" stroke-linecap="butt"/>
<line x1="458.4" y1="289.3" x2="458.4" y2="314.5" stroke="#141414" stroke-width="1.3" stroke-linecap="butt"/>
<text x="8.2" y="487.8" font-size="12.2" text-anchor="start" font-weight="bold" fill="#0a0a0a">F</text>
<text x="17.2" y="570" font-size="9.6" text-anchor="middle" transform="rotate(-90 17.2 570)" fill="#1c1c1c" stroke="#1c1c1c" stroke-width="0.28">Arbitrary unit</text>
<text x="89.4" y="497.4" font-size="10.2" text-anchor="middle" fill="#1c1c1c" stroke="#1c1c1c" stroke-width="0.12">NS</text>
<text x="208.4" y="497.4" font-size="10.2" text-anchor="middle" fill="#1c1c1c" stroke="#1c1c1c" stroke-width="0.12">NS</text>
<line x1="44" y1="503" x2="44" y2="638.4" stroke="#141414" stroke-width="1.6" stroke-linecap="butt"/>
<line x1="43.2" y1="637.6" x2="135" y2="637.6" stroke="#141414" stroke-width="1.6" stroke-linecap="butt"/>
<line x1="40.5" y1="505.8" x2="44" y2="505.8" stroke="#141414" stroke-width="1.1" stroke-linecap="butt"/>
<text x="36.8" y="508.8" font-size="8.0" text-anchor="end" fill="#1c1c1c" stroke="#1c1c1c" stroke-width="0.28">10<tspan font-size="5.7" dy="-3.65">2</tspan></text>
<line x1="41.9" y1="521.14" x2="44" y2="521.14" stroke="#141414" stroke-width="0.9" stroke-linecap="butt"/>
<line x1="41.9" y1="517.28" x2="44" y2="517.28" stroke="#141414" stroke-width="0.9" stroke-linecap="butt"/>
<line x1="41.9" y1="514.53" x2="44" y2="514.53" stroke="#141414" stroke-width="0.9" stroke-linecap="butt"/>
<line x1="41.9" y1="512.41" x2="44" y2="512.41" stroke="#141414" stroke-width="0.9" stroke-linecap="butt"/>
<line x1="41.9" y1="510.67" x2="44" y2="510.67" stroke="#141414" stroke-width="0.9" stroke-linecap="butt"/>
<line x1="41.9" y1="509.2" x2="44" y2="509.2" stroke="#141414" stroke-width="0.9" stroke-linecap="butt"/>
<line x1="41.9" y1="507.93" x2="44" y2="507.93" stroke="#141414" stroke-width="0.9" stroke-linecap="butt"/>
<line x1="41.9" y1="506.8" x2="44" y2="506.8" stroke="#141414" stroke-width="0.9" stroke-linecap="butt"/>
<line x1="40.5" y1="527.75" x2="44" y2="527.75" stroke="#141414" stroke-width="1.1" stroke-linecap="butt"/>
<text x="36.8" y="530.75" font-size="8.0" text-anchor="end" fill="#1c1c1c" stroke="#1c1c1c" stroke-width="0.28">10<tspan font-size="5.7" dy="-3.65">1</tspan></text>
<line x1="41.9" y1="543.09" x2="44" y2="543.09" stroke="#141414" stroke-width="0.9" stroke-linecap="butt"/>
<line x1="41.9" y1="539.23" x2="44" y2="539.23" stroke="#141414" stroke-width="0.9" stroke-linecap="butt"/>
<line x1="41.9" y1="536.48" x2="44" y2="536.48" stroke="#141414" stroke-width="0.9" stroke-linecap="butt"/>
<line x1="41.9" y1="534.36" x2="44" y2="534.36" stroke="#141414" stroke-width="0.9" stroke-linecap="butt"/>
<line x1="41.9" y1="532.62" x2="44" y2="532.62" stroke="#141414" stroke-width="0.9" stroke-linecap="butt"/>
<line x1="41.9" y1="531.15" x2="44" y2="531.15" stroke="#141414" stroke-width="0.9" stroke-linecap="butt"/>
<line x1="41.9" y1="529.88" x2="44" y2="529.88" stroke="#141414" stroke-width="0.9" stroke-linecap="butt"/>
<line x1="41.9" y1="528.75" x2="44" y2="528.75" stroke="#141414" stroke-width="0.9" stroke-linecap="butt"/>
<line x1="40.5" y1="549.7" x2="44" y2="549.7" stroke="#141414" stroke-width="1.1" stroke-linecap="butt"/>
<text x="36.8" y="552.7" font-size="8.0" text-anchor="end" fill="#1c1c1c" stroke="#1c1c1c" stroke-width="0.28">10<tspan font-size="5.7" dy="-3.65">0</tspan></text>
<line x1="41.9" y1="565.04" x2="44" y2="565.04" stroke="#141414" stroke-width="0.9" stroke-linecap="butt"/>
<line x1="41.9" y1="561.18" x2="44" y2="561.18" stroke="#141414" stroke-width="0.9" stroke-linecap="butt"/>
<line x1="41.9" y1="558.43" x2="44" y2="558.43" stroke="#141414" stroke-width="0.9" stroke-linecap="butt"/>
<line x1="41.9" y1="556.31" x2="44" y2="556.31" stroke="#141414" stroke-width="0.9" stroke-linecap="butt"/>
<line x1="41.9" y1="554.57" x2="44" y2="554.57" stroke="#141414" stroke-width="0.9" stroke-linecap="butt"/>
<line x1="41.9" y1="553.1" x2="44" y2="553.1" stroke="#141414" stroke-width="0.9" stroke-linecap="butt"/>
<line x1="41.9" y1="551.83" x2="44" y2="551.83" stroke="#141414" stroke-width="0.9" stroke-linecap="butt"/>
<line x1="41.9" y1="550.7" x2="44" y2="550.7" stroke="#141414" stroke-width="0.9" stroke-linecap="butt"/>
<line x1="40.5" y1="571.65" x2="44" y2="571.65" stroke="#141414" stroke-width="1.1" stroke-linecap="butt"/>
<text x="36.8" y="574.65" font-size="8.0" text-anchor="end" fill="#1c1c1c" stroke="#1c1c1c" stroke-width="0.28">10<tspan font-size="5.7" dy="-3.65">-1</tspan></text>
<line x1="41.9" y1="586.99" x2="44" y2="586.99" stroke="#141414" stroke-width="0.9" stroke-linecap="butt"/>
<line x1="41.9" y1="583.13" x2="44" y2="583.13" stroke="#141414" stroke-width="0.9" stroke-linecap="butt"/>
<line x1="41.9" y1="580.38" x2="44" y2="580.38" stroke="#141414" stroke-width="0.9" stroke-linecap="butt"/>
<line x1="41.9" y1="578.26" x2="44" y2="578.26" stroke="#141414" stroke-width="0.9" stroke-linecap="butt"/>
<line x1="41.9" y1="576.52" x2="44" y2="576.52" stroke="#141414" stroke-width="0.9" stroke-linecap="butt"/>
<line x1="41.9" y1="575.05" x2="44" y2="575.05" stroke="#141414" stroke-width="0.9" stroke-linecap="butt"/>
<line x1="41.9" y1="573.78" x2="44" y2="573.78" stroke="#141414" stroke-width="0.9" stroke-linecap="butt"/>
<line x1="41.9" y1="572.65" x2="44" y2="572.65" stroke="#141414" stroke-width="0.9" stroke-linecap="butt"/>
<line x1="40.5" y1="593.6" x2="44" y2="593.6" stroke="#141414" stroke-width="1.1" stroke-linecap="butt"/>
<text x="36.8" y="596.6" font-size="8.0" text-anchor="end" fill="#1c1c1c" stroke="#1c1c1c" stroke-width="0.28">10<tspan font-size="5.7" dy="-3.65">-2</tspan></text>
<line x1="41.9" y1="608.94" x2="44" y2="608.94" stroke="#141414" stroke-width="0.9" stroke-linecap="butt"/>
<line x1="41.9" y1="605.08" x2="44" y2="605.08" stroke="#141414" stroke-width="0.9" stroke-linecap="butt"/>
<line x1="41.9" y1="602.33" x2="44" y2="602.33" stroke="#141414" stroke-width="0.9" stroke-linecap="butt"/>
<line x1="41.9" y1="600.21" x2="44" y2="600.21" stroke="#141414" stroke-width="0.9" stroke-linecap="butt"/>
<line x1="41.9" y1="598.47" x2="44" y2="598.47" stroke="#141414" stroke-width="0.9" stroke-linecap="butt"/>
<line x1="41.9" y1="597" x2="44" y2="597" stroke="#141414" stroke-width="0.9" stroke-linecap="butt"/>
<line x1="41.9" y1="595.73" x2="44" y2="595.73" stroke="#141414" stroke-width="0.9" stroke-linecap="butt"/>
<line x1="41.9" y1="594.6" x2="44" y2="594.6" stroke="#141414" stroke-width="0.9" stroke-linecap="butt"/>
<line x1="40.5" y1="615.55" x2="44" y2="615.55" stroke="#141414" stroke-width="1.1" stroke-linecap="butt"/>
<text x="36.8" y="618.55" font-size="8.0" text-anchor="end" fill="#1c1c1c" stroke="#1c1c1c" stroke-width="0.28">10<tspan font-size="5.7" dy="-3.65">-3</tspan></text>
<line x1="41.9" y1="630.89" x2="44" y2="630.89" stroke="#141414" stroke-width="0.9" stroke-linecap="butt"/>
<line x1="41.9" y1="627.03" x2="44" y2="627.03" stroke="#141414" stroke-width="0.9" stroke-linecap="butt"/>
<line x1="41.9" y1="624.28" x2="44" y2="624.28" stroke="#141414" stroke-width="0.9" stroke-linecap="butt"/>
<line x1="41.9" y1="622.16" x2="44" y2="622.16" stroke="#141414" stroke-width="0.9" stroke-linecap="butt"/>
<line x1="41.9" y1="620.42" x2="44" y2="620.42" stroke="#141414" stroke-width="0.9" stroke-linecap="butt"/>
<line x1="41.9" y1="618.95" x2="44" y2="618.95" stroke="#141414" stroke-width="0.9" stroke-linecap="butt"/>
<line x1="41.9" y1="617.68" x2="44" y2="617.68" stroke="#141414" stroke-width="0.9" stroke-linecap="butt"/>
<line x1="41.9" y1="616.55" x2="44" y2="616.55" stroke="#141414" stroke-width="0.9" stroke-linecap="butt"/>
<line x1="40.5" y1="637.5" x2="44" y2="637.5" stroke="#141414" stroke-width="1.1" stroke-linecap="butt"/>
<text x="36.8" y="640.5" font-size="8.0" text-anchor="end" fill="#1c1c1c" stroke="#1c1c1c" stroke-width="0.28">10<tspan font-size="5.7" dy="-3.65">-4</tspan></text>
<line x1="163.9" y1="503.5" x2="163.9" y2="638.4" stroke="#141414" stroke-width="1.6" stroke-linecap="butt"/>
<line x1="163.1" y1="637.6" x2="250.5" y2="637.6" stroke="#141414" stroke-width="1.6" stroke-linecap="butt"/>
<line x1="160.4" y1="506.2" x2="163.9" y2="506.2" stroke="#141414" stroke-width="1.1" stroke-linecap="butt"/>
<text x="156.7" y="509.2" font-size="8.6" text-anchor="end" fill="#1c1c1c" stroke="#1c1c1c" stroke-width="0.28">10<tspan font-size="5.8" dy="-3.71">1</tspan></text>
<line x1="161.8" y1="524.62" x2="163.9" y2="524.62" stroke="#141414" stroke-width="0.9" stroke-linecap="butt"/>
<line x1="161.8" y1="519.98" x2="163.9" y2="519.98" stroke="#141414" stroke-width="0.9" stroke-linecap="butt"/>
<line x1="161.8" y1="516.69" x2="163.9" y2="516.69" stroke="#141414" stroke-width="0.9" stroke-linecap="butt"/>
<line x1="161.8" y1="514.14" x2="163.9" y2="514.14" stroke="#141414" stroke-width="0.9" stroke-linecap="butt"/>
<line x1="161.8" y1="512.05" x2="163.9" y2="512.05" stroke="#141414" stroke-width="0.9" stroke-linecap="butt"/>
<line x1="161.8" y1="510.28" x2="163.9" y2="510.28" stroke="#141414" stroke-width="0.9" stroke-linecap="butt"/>
<line x1="161.8" y1="508.75" x2="163.9" y2="508.75" stroke="#141414" stroke-width="0.9" stroke-linecap="butt"/>
<line x1="161.8" y1="507.41" x2="163.9" y2="507.41" stroke="#141414" stroke-width="0.9" stroke-linecap="butt"/>
<line x1="160.4" y1="532.56" x2="163.9" y2="532.56" stroke="#141414" stroke-width="1.1" stroke-linecap="butt"/>
<text x="156.7" y="535.56" font-size="8.6" text-anchor="end" fill="#1c1c1c" stroke="#1c1c1c" stroke-width="0.28">10<tspan font-size="5.8" dy="-3.71">0</tspan></text>
<line x1="161.8" y1="550.98" x2="163.9" y2="550.98" stroke="#141414" stroke-width="0.9" stroke-linecap="butt"/>
<line x1="161.8" y1="546.34" x2="163.9" y2="546.34" stroke="#141414" stroke-width="0.9" stroke-linecap="butt"/>
<line x1="161.8" y1="543.05" x2="163.9" y2="543.05" stroke="#141414" stroke-width="0.9" stroke-linecap="butt"/>
<line x1="161.8" y1="540.5" x2="163.9" y2="540.5" stroke="#141414" stroke-width="0.9" stroke-linecap="butt"/>
<line x1="161.8" y1="538.41" x2="163.9" y2="538.41" stroke="#141414" stroke-width="0.9" stroke-linecap="butt"/>
<line x1="161.8" y1="536.64" x2="163.9" y2="536.64" stroke="#141414" stroke-width="0.9" stroke-linecap="butt"/>
<line x1="161.8" y1="535.11" x2="163.9" y2="535.11" stroke="#141414" stroke-width="0.9" stroke-linecap="butt"/>
<line x1="161.8" y1="533.77" x2="163.9" y2="533.77" stroke="#141414" stroke-width="0.9" stroke-linecap="butt"/>
<line x1="160.4" y1="558.92" x2="163.9" y2="558.92" stroke="#141414" stroke-width="1.1" stroke-linecap="butt"/>
<text x="156.7" y="561.92" font-size="8.6" text-anchor="end" fill="#1c1c1c" stroke="#1c1c1c" stroke-width="0.28">10<tspan font-size="5.8" dy="-3.71">-1</tspan></text>
<line x1="161.8" y1="577.34" x2="163.9" y2="577.34" stroke="#141414" stroke-width="0.9" stroke-linecap="butt"/>
<line x1="161.8" y1="572.7" x2="163.9" y2="572.7" stroke="#141414" stroke-width="0.9" stroke-linecap="butt"/>
<line x1="161.8" y1="569.41" x2="163.9" y2="569.41" stroke="#141414" stroke-width="0.9" stroke-linecap="butt"/>
<line x1="161.8" y1="566.86" x2="163.9" y2="566.86" stroke="#141414" stroke-width="0.9" stroke-linecap="butt"/>
<line x1="161.8" y1="564.77" x2="163.9" y2="564.77" stroke="#141414" stroke-width="0.9" stroke-linecap="butt"/>
<line x1="161.8" y1="563" x2="163.9" y2="563" stroke="#141414" stroke-width="0.9" stroke-linecap="butt"/>
<line x1="161.8" y1="561.47" x2="163.9" y2="561.47" stroke="#141414" stroke-width="0.9" stroke-linecap="butt"/>
<line x1="161.8" y1="560.13" x2="163.9" y2="560.13" stroke="#141414" stroke-width="0.9" stroke-linecap="butt"/>
<line x1="160.4" y1="585.28" x2="163.9" y2="585.28" stroke="#141414" stroke-width="1.1" stroke-linecap="butt"/>
<text x="156.7" y="588.28" font-size="8.6" text-anchor="end" fill="#1c1c1c" stroke="#1c1c1c" stroke-width="0.28">10<tspan font-size="5.8" dy="-3.71">-2</tspan></text>
<line x1="161.8" y1="603.7" x2="163.9" y2="603.7" stroke="#141414" stroke-width="0.9" stroke-linecap="butt"/>
<line x1="161.8" y1="599.06" x2="163.9" y2="599.06" stroke="#141414" stroke-width="0.9" stroke-linecap="butt"/>
<line x1="161.8" y1="595.77" x2="163.9" y2="595.77" stroke="#141414" stroke-width="0.9" stroke-linecap="butt"/>
<line x1="161.8" y1="593.22" x2="163.9" y2="593.22" stroke="#141414" stroke-width="0.9" stroke-linecap="butt"/>
<line x1="161.8" y1="591.13" x2="163.9" y2="591.13" stroke="#141414" stroke-width="0.9" stroke-linecap="butt"/>
<line x1="161.8" y1="589.36" x2="163.9" y2="589.36" stroke="#141414" stroke-width="0.9" stroke-linecap="butt"/>
<line x1="161.8" y1="587.83" x2="163.9" y2="587.83" stroke="#141414" stroke-width="0.9" stroke-linecap="butt"/>
<line x1="161.8" y1="586.49" x2="163.9" y2="586.49" stroke="#141414" stroke-width="0.9" stroke-linecap="butt"/>
<line x1="160.4" y1="611.64" x2="163.9" y2="611.64" stroke="#141414" stroke-width="1.1" stroke-linecap="butt"/>
<text x="156.7" y="614.64" font-size="8.6" text-anchor="end" fill="#1c1c1c" stroke="#1c1c1c" stroke-width="0.28">10<tspan font-size="5.8" dy="-3.71">-3</tspan></text>
<line x1="161.8" y1="630.06" x2="163.9" y2="630.06" stroke="#141414" stroke-width="0.9" stroke-linecap="butt"/>
<line x1="161.8" y1="625.42" x2="163.9" y2="625.42" stroke="#141414" stroke-width="0.9" stroke-linecap="butt"/>
<line x1="161.8" y1="622.13" x2="163.9" y2="622.13" stroke="#141414" stroke-width="0.9" stroke-linecap="butt"/>
<line x1="161.8" y1="619.58" x2="163.9" y2="619.58" stroke="#141414" stroke-width="0.9" stroke-linecap="butt"/>
<line x1="161.8" y1="617.49" x2="163.9" y2="617.49" stroke="#141414" stroke-width="0.9" stroke-linecap="butt"/>
<line x1="161.8" y1="615.72" x2="163.9" y2="615.72" stroke="#141414" stroke-width="0.9" stroke-linecap="butt"/>
<line x1="161.8" y1="614.19" x2="163.9" y2="614.19" stroke="#141414" stroke-width="0.9" stroke-linecap="butt"/>
<line x1="161.8" y1="612.85" x2="163.9" y2="612.85" stroke="#141414" stroke-width="0.9" stroke-linecap="butt"/>
<line x1="160.4" y1="638" x2="163.9" y2="638" stroke="#141414" stroke-width="1.1" stroke-linecap="butt"/>
<text x="156.7" y="641" font-size="8.6" text-anchor="end" fill="#1c1c1c" stroke="#1c1c1c" stroke-width="0.28">10<tspan font-size="5.8" dy="-3.71">-4</tspan></text>
<line x1="67" y1="637.6" x2="67" y2="640.6" stroke="#141414" stroke-width="1.1" stroke-linecap="butt"/>
<text x="67" y="651.8" font-size="8.8" text-anchor="middle" fill="#1c1c1c" stroke="#1c1c1c" stroke-width="0.28">Diag</text>
<line x1="112.6" y1="637.6" x2="112.6" y2="640.6" stroke="#141414" stroke-width="1.1" stroke-linecap="butt"/>
<text x="112.6" y="651.8" font-size="8.8" text-anchor="middle" fill="#1c1c1c" stroke="#1c1c1c" stroke-width="0.28">CCyR</text>
<line x1="186.3" y1="637.6" x2="186.3" y2="640.6" stroke="#141414" stroke-width="1.1" stroke-linecap="butt"/>
<text x="186.3" y="651.8" font-size="8.8" text-anchor="middle" fill="#1c1c1c" stroke="#1c1c1c" stroke-width="0.28">Diag</text>
<line x1="229.9" y1="637.6" x2="229.9" y2="640.6" stroke="#141414" stroke-width="1.1" stroke-linecap="butt"/>
<text x="229.9" y="651.8" font-size="8.8" text-anchor="middle" fill="#1c1c1c" stroke="#1c1c1c" stroke-width="0.28">Resistant</text>
<line x1="66.6" y1="522.2" x2="112.7" y2="616" stroke="#141414" stroke-width="1.3" stroke-linecap="butt"/>
<line x1="66.6" y1="533.5" x2="112.7" y2="550.5" stroke="#141414" stroke-width="1.3" stroke-linecap="butt"/>
<line x1="66.6" y1="547" x2="112.7" y2="555.5" stroke="#141414" stroke-width="1.3" stroke-linecap="butt"/>
<line x1="66.6" y1="548.6" x2="112.7" y2="593.9" stroke="#141414" stroke-width="1.3" stroke-linecap="butt"/>
<line x1="66.6" y1="555.7" x2="112.7" y2="533.5" stroke="#141414" stroke-width="1.3" stroke-linecap="butt"/>
<line x1="66.6" y1="579.8" x2="112.7" y2="565.9" stroke="#141414" stroke-width="1.3" stroke-linecap="butt"/>
<circle cx="66.6" cy="522.2" r="2.35" fill="#33467a"/>
<circle cx="66.6" cy="533.5" r="2.35" fill="#33467a"/>
<circle cx="66.6" cy="547" r="2.35" fill="#33467a"/>
<circle cx="66.6" cy="548.6" r="2.35" fill="#33467a"/>
<circle cx="66.6" cy="555.7" r="2.35" fill="#33467a"/>
<circle cx="66.6" cy="579.8" r="2.35" fill="#33467a"/>
<rect x="110.5" y="531.3" width="4.4" height="4.4" fill="#e0a030"/>
<rect x="110.5" y="548.3" width="4.4" height="4.4" fill="#e0a030"/>
<rect x="110.5" y="550.6" width="4.4" height="4.4" fill="#e0a030"/>
<rect x="110.5" y="553.3" width="4.4" height="4.4" fill="#e0a030"/>
<rect x="110.5" y="563.7" width="4.4" height="4.4" fill="#e0a030"/>
<rect x="110.5" y="591.7" width="4.4" height="4.4" fill="#e0a030"/>
<rect x="110.5" y="613.8" width="4.4" height="4.4" fill="#e0a030"/>
<line x1="186.4" y1="524.8" x2="229.8" y2="562.6" stroke="#141414" stroke-width="1.3" stroke-linecap="butt"/>
<line x1="186.4" y1="535" x2="229.8" y2="556.6" stroke="#141414" stroke-width="1.3" stroke-linecap="butt"/>
<line x1="186.4" y1="536.5" x2="229.8" y2="566" stroke="#141414" stroke-width="1.3" stroke-linecap="butt"/>
<line x1="186.4" y1="538" x2="229.8" y2="585.3" stroke="#141414" stroke-width="1.3" stroke-linecap="butt"/>
<line x1="186.4" y1="538" x2="229.8" y2="611.5" stroke="#141414" stroke-width="1.3" stroke-linecap="butt"/>
<line x1="186.4" y1="548" x2="229.8" y2="548.8" stroke="#141414" stroke-width="1.3" stroke-linecap="butt"/>
<line x1="186.4" y1="585.3" x2="229.8" y2="538" stroke="#141414" stroke-width="1.3" stroke-linecap="butt"/>
<line x1="186.4" y1="611.5" x2="229.8" y2="566" stroke="#141414" stroke-width="1.3" stroke-linecap="butt"/>
<circle cx="186.4" cy="524.8" r="2.35" fill="#33467a"/>
<circle cx="186.4" cy="534.8" r="2.35" fill="#33467a"/>
<circle cx="186.4" cy="538" r="2.35" fill="#33467a"/>
<circle cx="186.4" cy="548" r="2.35" fill="#33467a"/>
<circle cx="186.4" cy="585.3" r="2.35" fill="#33467a"/>
<circle cx="186.4" cy="611.5" r="2.35" fill="#33467a"/>
<rect x="227.6" y="535.8" width="4.4" height="4.4" fill="#4a2468"/>
<rect x="227.6" y="546.6" width="4.4" height="4.4" fill="#4a2468"/>
<rect x="227.6" y="554.4" width="4.4" height="4.4" fill="#4a2468"/>
<rect x="227.6" y="560.4" width="4.4" height="4.4" fill="#4a2468"/>
<rect x="227.6" y="563.9" width="4.4" height="4.4" fill="#4a2468"/>
<rect x="227.6" y="583.1" width="4.4" height="4.4" fill="#4a2468"/>
<rect x="227.6" y="609.3" width="4.4" height="4.4" fill="#4a2468"/>
<text x="268.8" y="486.4" font-size="12.2" text-anchor="start" font-weight="bold" fill="#0a0a0a">G</text>
<text x="277.2" y="569.4" font-size="9.6" text-anchor="middle" transform="rotate(-90 277.2 569.4)" fill="#1c1c1c" stroke="#1c1c1c" stroke-width="0.28">Arbitrary unit</text>
<text x="351.6" y="497.4" font-size="10.2" text-anchor="middle" fill="#1c1c1c" stroke="#1c1c1c" stroke-width="0.12">NS</text>
<line x1="305.3" y1="500.4" x2="305.3" y2="638.8" stroke="#141414" stroke-width="1.6" stroke-linecap="butt"/>
<line x1="304.5" y1="638" x2="397.5" y2="638" stroke="#141414" stroke-width="1.6" stroke-linecap="butt"/>
<line x1="301.8" y1="503.3" x2="305.3" y2="503.3" stroke="#141414" stroke-width="1.1" stroke-linecap="butt"/>
<text x="298.1" y="506.3" font-size="8.2" text-anchor="end" fill="#1c1c1c" stroke="#1c1c1c" stroke-width="0.28">10<tspan font-size="5.7" dy="-3.65">1</tspan></text>
<line x1="303.2" y1="522.13" x2="305.3" y2="522.13" stroke="#141414" stroke-width="0.9" stroke-linecap="butt"/>
<line x1="303.2" y1="517.39" x2="305.3" y2="517.39" stroke="#141414" stroke-width="0.9" stroke-linecap="butt"/>
<line x1="303.2" y1="514.02" x2="305.3" y2="514.02" stroke="#141414" stroke-width="0.9" stroke-linecap="butt"/>
<line x1="303.2" y1="511.41" x2="305.3" y2="511.41" stroke="#141414" stroke-width="0.9" stroke-linecap="butt"/>
<line x1="303.2" y1="509.28" x2="305.3" y2="509.28" stroke="#141414" stroke-width="0.9" stroke-linecap="butt"/>
<line x1="303.2" y1="507.47" x2="305.3" y2="507.47" stroke="#141414" stroke-width="0.9" stroke-linecap="butt"/>
<line x1="303.2" y1="505.91" x2="305.3" y2="505.91" stroke="#141414" stroke-width="0.9" stroke-linecap="butt"/>
<line x1="303.2" y1="504.53" x2="305.3" y2="504.53" stroke="#141414" stroke-width="0.9" stroke-linecap="butt"/>
<line x1="301.8" y1="530.24" x2="305.3" y2="530.24" stroke="#141414" stroke-width="1.1" stroke-linecap="butt"/>
<text x="298.1" y="533.24" font-size="8.2" text-anchor="end" fill="#1c1c1c" stroke="#1c1c1c" stroke-width="0.28">10<tspan font-size="5.7" dy="-3.65">0</tspan></text>
<line x1="303.2" y1="549.07" x2="305.3" y2="549.07" stroke="#141414" stroke-width="0.9" stroke-linecap="butt"/>
<line x1="303.2" y1="544.33" x2="305.3" y2="544.33" stroke="#141414" stroke-width="0.9" stroke-linecap="butt"/>
<line x1="303.2" y1="540.96" x2="305.3" y2="540.96" stroke="#141414" stroke-width="0.9" stroke-linecap="butt"/>
<line x1="303.2" y1="538.35" x2="305.3" y2="538.35" stroke="#141414" stroke-width="0.9" stroke-linecap="butt"/>
<line x1="303.2" y1="536.22" x2="305.3" y2="536.22" stroke="#141414" stroke-width="0.9" stroke-linecap="butt"/>
<line x1="303.2" y1="534.41" x2="305.3" y2="534.41" stroke="#141414" stroke-width="0.9" stroke-linecap="butt"/>
<line x1="303.2" y1="532.85" x2="305.3" y2="532.85" stroke="#141414" stroke-width="0.9" stroke-linecap="butt"/>
<line x1="303.2" y1="531.47" x2="305.3" y2="531.47" stroke="#141414" stroke-width="0.9" stroke-linecap="butt"/>
<line x1="301.8" y1="557.18" x2="305.3" y2="557.18" stroke="#141414" stroke-width="1.1" stroke-linecap="butt"/>
<text x="298.1" y="560.18" font-size="8.2" text-anchor="end" fill="#1c1c1c" stroke="#1c1c1c" stroke-width="0.28">10<tspan font-size="5.7" dy="-3.65">-1</tspan></text>
<line x1="303.2" y1="576.01" x2="305.3" y2="576.01" stroke="#141414" stroke-width="0.9" stroke-linecap="butt"/>
<line x1="303.2" y1="571.27" x2="305.3" y2="571.27" stroke="#141414" stroke-width="0.9" stroke-linecap="butt"/>
<line x1="303.2" y1="567.9" x2="305.3" y2="567.9" stroke="#141414" stroke-width="0.9" stroke-linecap="butt"/>
<line x1="303.2" y1="565.29" x2="305.3" y2="565.29" stroke="#141414" stroke-width="0.9" stroke-linecap="butt"/>
<line x1="303.2" y1="563.16" x2="305.3" y2="563.16" stroke="#141414" stroke-width="0.9" stroke-linecap="butt"/>
<line x1="303.2" y1="561.35" x2="305.3" y2="561.35" stroke="#141414" stroke-width="0.9" stroke-linecap="butt"/>
<line x1="303.2" y1="559.79" x2="305.3" y2="559.79" stroke="#141414" stroke-width="0.9" stroke-linecap="butt"/>
<line x1="303.2" y1="558.41" x2="305.3" y2="558.41" stroke="#141414" stroke-width="0.9" stroke-linecap="butt"/>
<line x1="301.8" y1="584.12" x2="305.3" y2="584.12" stroke="#141414" stroke-width="1.1" stroke-linecap="butt"/>
<text x="298.1" y="587.12" font-size="8.2" text-anchor="end" fill="#1c1c1c" stroke="#1c1c1c" stroke-width="0.28">10<tspan font-size="5.7" dy="-3.65">-2</tspan></text>
<line x1="303.2" y1="602.95" x2="305.3" y2="602.95" stroke="#141414" stroke-width="0.9" stroke-linecap="butt"/>
<line x1="303.2" y1="598.21" x2="305.3" y2="598.21" stroke="#141414" stroke-width="0.9" stroke-linecap="butt"/>
<line x1="303.2" y1="594.84" x2="305.3" y2="594.84" stroke="#141414" stroke-width="0.9" stroke-linecap="butt"/>
<line x1="303.2" y1="592.23" x2="305.3" y2="592.23" stroke="#141414" stroke-width="0.9" stroke-linecap="butt"/>
<line x1="303.2" y1="590.1" x2="305.3" y2="590.1" stroke="#141414" stroke-width="0.9" stroke-linecap="butt"/>
<line x1="303.2" y1="588.29" x2="305.3" y2="588.29" stroke="#141414" stroke-width="0.9" stroke-linecap="butt"/>
<line x1="303.2" y1="586.73" x2="305.3" y2="586.73" stroke="#141414" stroke-width="0.9" stroke-linecap="butt"/>
<line x1="303.2" y1="585.35" x2="305.3" y2="585.35" stroke="#141414" stroke-width="0.9" stroke-linecap="butt"/>
<line x1="301.8" y1="611.06" x2="305.3" y2="611.06" stroke="#141414" stroke-width="1.1" stroke-linecap="butt"/>
<text x="298.1" y="614.06" font-size="8.2" text-anchor="end" fill="#1c1c1c" stroke="#1c1c1c" stroke-width="0.28">10<tspan font-size="5.7" dy="-3.65">-3</tspan></text>
<line x1="303.2" y1="629.89" x2="305.3" y2="629.89" stroke="#141414" stroke-width="0.9" stroke-linecap="butt"/>
<line x1="303.2" y1="625.15" x2="305.3" y2="625.15" stroke="#141414" stroke-width="0.9" stroke-linecap="butt"/>
<line x1="303.2" y1="621.78" x2="305.3" y2="621.78" stroke="#141414" stroke-width="0.9" stroke-linecap="butt"/>
<line x1="303.2" y1="619.17" x2="305.3" y2="619.17" stroke="#141414" stroke-width="0.9" stroke-linecap="butt"/>
<line x1="303.2" y1="617.04" x2="305.3" y2="617.04" stroke="#141414" stroke-width="0.9" stroke-linecap="butt"/>
<line x1="303.2" y1="615.23" x2="305.3" y2="615.23" stroke="#141414" stroke-width="0.9" stroke-linecap="butt"/>
<line x1="303.2" y1="613.67" x2="305.3" y2="613.67" stroke="#141414" stroke-width="0.9" stroke-linecap="butt"/>
<line x1="303.2" y1="612.29" x2="305.3" y2="612.29" stroke="#141414" stroke-width="0.9" stroke-linecap="butt"/>
<line x1="301.8" y1="638" x2="305.3" y2="638" stroke="#141414" stroke-width="1.1" stroke-linecap="butt"/>
<text x="298.1" y="641" font-size="8.2" text-anchor="end" fill="#1c1c1c" stroke="#1c1c1c" stroke-width="0.28">10<tspan font-size="5.7" dy="-3.65">-4</tspan></text>
<line x1="425.9" y1="497.3" x2="425.9" y2="638.8" stroke="#141414" stroke-width="1.6" stroke-linecap="butt"/>
<line x1="425.1" y1="638" x2="512" y2="638" stroke="#141414" stroke-width="1.6" stroke-linecap="butt"/>
<line x1="422.4" y1="500.4" x2="425.9" y2="500.4" stroke="#141414" stroke-width="1.1" stroke-linecap="butt"/>
<text x="418.7" y="503.4" font-size="7.9" text-anchor="end" fill="#1c1c1c" stroke="#1c1c1c" stroke-width="0.28">10<tspan font-size="5.6" dy="-3.58">3</tspan></text>
<line x1="423.8" y1="514.16" x2="425.9" y2="514.16" stroke="#141414" stroke-width="0.9" stroke-linecap="butt"/>
<line x1="423.8" y1="510.69" x2="425.9" y2="510.69" stroke="#141414" stroke-width="0.9" stroke-linecap="butt"/>
<line x1="423.8" y1="508.23" x2="425.9" y2="508.23" stroke="#141414" stroke-width="0.9" stroke-linecap="butt"/>
<line x1="423.8" y1="506.33" x2="425.9" y2="506.33" stroke="#141414" stroke-width="0.9" stroke-linecap="butt"/>
<line x1="423.8" y1="504.77" x2="425.9" y2="504.77" stroke="#141414" stroke-width="0.9" stroke-linecap="butt"/>
<line x1="423.8" y1="503.45" x2="425.9" y2="503.45" stroke="#141414" stroke-width="0.9" stroke-linecap="butt"/>
<line x1="423.8" y1="502.31" x2="425.9" y2="502.31" stroke="#141414" stroke-width="0.9" stroke-linecap="butt"/>
<line x1="423.8" y1="501.3" x2="425.9" y2="501.3" stroke="#141414" stroke-width="0.9" stroke-linecap="butt"/>
<line x1="422.4" y1="520.09" x2="425.9" y2="520.09" stroke="#141414" stroke-width="1.1" stroke-linecap="butt"/>
<text x="418.7" y="523.09" font-size="7.9" text-anchor="end" fill="#1c1c1c" stroke="#1c1c1c" stroke-width="0.28">10<tspan font-size="5.6" dy="-3.58">2</tspan></text>
<line x1="423.8" y1="533.85" x2="425.9" y2="533.85" stroke="#141414" stroke-width="0.9" stroke-linecap="butt"/>
<line x1="423.8" y1="530.38" x2="425.9" y2="530.38" stroke="#141414" stroke-width="0.9" stroke-linecap="butt"/>
<line x1="423.8" y1="527.92" x2="425.9" y2="527.92" stroke="#141414" stroke-width="0.9" stroke-linecap="butt"/>
<line x1="423.8" y1="526.01" x2="425.9" y2="526.01" stroke="#141414" stroke-width="0.9" stroke-linecap="butt"/>
<line x1="423.8" y1="524.45" x2="425.9" y2="524.45" stroke="#141414" stroke-width="0.9" stroke-linecap="butt"/>
<line x1="423.8" y1="523.14" x2="425.9" y2="523.14" stroke="#141414" stroke-width="0.9" stroke-linecap="butt"/>
<line x1="423.8" y1="521.99" x2="425.9" y2="521.99" stroke="#141414" stroke-width="0.9" stroke-linecap="butt"/>
<line x1="423.8" y1="520.99" x2="425.9" y2="520.99" stroke="#141414" stroke-width="0.9" stroke-linecap="butt"/>
<line x1="422.4" y1="539.77" x2="425.9" y2="539.77" stroke="#141414" stroke-width="1.1" stroke-linecap="butt"/>
<text x="418.7" y="542.77" font-size="7.9" text-anchor="end" fill="#1c1c1c" stroke="#1c1c1c" stroke-width="0.28">10<tspan font-size="5.6" dy="-3.58">1</tspan></text>
<line x1="423.8" y1="553.53" x2="425.9" y2="553.53" stroke="#141414" stroke-width="0.9" stroke-linecap="butt"/>
<line x1="423.8" y1="550.06" x2="425.9" y2="550.06" stroke="#141414" stroke-width="0.9" stroke-linecap="butt"/>
<line x1="423.8" y1="547.61" x2="425.9" y2="547.61" stroke="#141414" stroke-width="0.9" stroke-linecap="butt"/>
<line x1="423.8" y1="545.7" x2="425.9" y2="545.7" stroke="#141414" stroke-width="0.9" stroke-linecap="butt"/>
<line x1="423.8" y1="544.14" x2="425.9" y2="544.14" stroke="#141414" stroke-width="0.9" stroke-linecap="butt"/>
<line x1="423.8" y1="542.82" x2="425.9" y2="542.82" stroke="#141414" stroke-width="0.9" stroke-linecap="butt"/>
<line x1="423.8" y1="541.68" x2="425.9" y2="541.68" stroke="#141414" stroke-width="0.9" stroke-linecap="butt"/>
<line x1="423.8" y1="540.67" x2="425.9" y2="540.67" stroke="#141414" stroke-width="0.9" stroke-linecap="butt"/>
<line x1="422.4" y1="559.46" x2="425.9" y2="559.46" stroke="#141414" stroke-width="1.1" stroke-linecap="butt"/>
<text x="418.7" y="562.46" font-size="7.9" text-anchor="end" fill="#1c1c1c" stroke="#1c1c1c" stroke-width="0.28">10<tspan font-size="5.6" dy="-3.58">0</tspan></text>
<line x1="423.8" y1="573.22" x2="425.9" y2="573.22" stroke="#141414" stroke-width="0.9" stroke-linecap="butt"/>
<line x1="423.8" y1="569.75" x2="425.9" y2="569.75" stroke="#141414" stroke-width="0.9" stroke-linecap="butt"/>
<line x1="423.8" y1="567.29" x2="425.9" y2="567.29" stroke="#141414" stroke-width="0.9" stroke-linecap="butt"/>
<line x1="423.8" y1="565.38" x2="425.9" y2="565.38" stroke="#141414" stroke-width="0.9" stroke-linecap="butt"/>
<line x1="423.8" y1="563.82" x2="425.9" y2="563.82" stroke="#141414" stroke-width="0.9" stroke-linecap="butt"/>
<line x1="423.8" y1="562.51" x2="425.9" y2="562.51" stroke="#141414" stroke-width="0.9" stroke-linecap="butt"/>
<line x1="423.8" y1="561.36" x2="425.9" y2="561.36" stroke="#141414" stroke-width="0.9" stroke-linecap="butt"/>
<line x1="423.8" y1="560.36" x2="425.9" y2="560.36" stroke="#141414" stroke-width="0.9" stroke-linecap="butt"/>
<line x1="422.4" y1="579.14" x2="425.9" y2="579.14" stroke="#141414" stroke-width="1.1" stroke-linecap="butt"/>
<text x="418.7" y="582.14" font-size="7.9" text-anchor="end" fill="#1c1c1c" stroke="#1c1c1c" stroke-width="0.28">10<tspan font-size="5.6" dy="-3.58">-1</tspan></text>
<line x1="423.8" y1="592.9" x2="425.9" y2="592.9" stroke="#141414" stroke-width="0.9" stroke-linecap="butt"/>
<line x1="423.8" y1="589.44" x2="425.9" y2="589.44" stroke="#141414" stroke-width="0.9" stroke-linecap="butt"/>
<line x1="423.8" y1="586.98" x2="425.9" y2="586.98" stroke="#141414" stroke-width="0.9" stroke-linecap="butt"/>
<line x1="423.8" y1="585.07" x2="425.9" y2="585.07" stroke="#141414" stroke-width="0.9" stroke-linecap="butt"/>
<line x1="423.8" y1="583.51" x2="425.9" y2="583.51" stroke="#141414" stroke-width="0.9" stroke-linecap="butt"/>
<line x1="423.8" y1="582.19" x2="425.9" y2="582.19" stroke="#141414" stroke-width="0.9" stroke-linecap="butt"/>
<line x1="423.8" y1="581.05" x2="425.9" y2="581.05" stroke="#141414" stroke-width="0.9" stroke-linecap="butt"/>
<line x1="423.8" y1="580.04" x2="425.9" y2="580.04" stroke="#141414" stroke-width="0.9" stroke-linecap="butt"/>
<line x1="422.4" y1="598.83" x2="425.9" y2="598.83" stroke="#141414" stroke-width="1.1" stroke-linecap="butt"/>
<text x="418.7" y="601.83" font-size="7.9" text-anchor="end" fill="#1c1c1c" stroke="#1c1c1c" stroke-width="0.28">10<tspan font-size="5.6" dy="-3.58">-2</tspan></text>
<line x1="423.8" y1="612.59" x2="425.9" y2="612.59" stroke="#141414" stroke-width="0.9" stroke-linecap="butt"/>
<line x1="423.8" y1="609.12" x2="425.9" y2="609.12" stroke="#141414" stroke-width="0.9" stroke-linecap="butt"/>
<line x1="423.8" y1="606.66" x2="425.9" y2="606.66" stroke="#141414" stroke-width="0.9" stroke-linecap="butt"/>
<line x1="423.8" y1="604.75" x2="425.9" y2="604.75" stroke="#141414" stroke-width="0.9" stroke-linecap="butt"/>
<line x1="423.8" y1="603.2" x2="425.9" y2="603.2" stroke="#141414" stroke-width="0.9" stroke-linecap="butt"/>
<line x1="423.8" y1="601.88" x2="425.9" y2="601.88" stroke="#141414" stroke-width="0.9" stroke-linecap="butt"/>
<line x1="423.8" y1="600.74" x2="425.9" y2="600.74" stroke="#141414" stroke-width="0.9" stroke-linecap="butt"/>
<line x1="423.8" y1="599.73" x2="425.9" y2="599.73" stroke="#141414" stroke-width="0.9" stroke-linecap="butt"/>
<line x1="422.4" y1="618.51" x2="425.9" y2="618.51" stroke="#141414" stroke-width="1.1" stroke-linecap="butt"/>
<text x="418.7" y="621.51" font-size="7.9" text-anchor="end" fill="#1c1c1c" stroke="#1c1c1c" stroke-width="0.28">10<tspan font-size="5.6" dy="-3.58">-3</tspan></text>
<line x1="423.8" y1="632.27" x2="425.9" y2="632.27" stroke="#141414" stroke-width="0.9" stroke-linecap="butt"/>
<line x1="423.8" y1="628.81" x2="425.9" y2="628.81" stroke="#141414" stroke-width="0.9" stroke-linecap="butt"/>
<line x1="423.8" y1="626.35" x2="425.9" y2="626.35" stroke="#141414" stroke-width="0.9" stroke-linecap="butt"/>
<line x1="423.8" y1="624.44" x2="425.9" y2="624.44" stroke="#141414" stroke-width="0.9" stroke-linecap="butt"/>
<line x1="423.8" y1="622.88" x2="425.9" y2="622.88" stroke="#141414" stroke-width="0.9" stroke-linecap="butt"/>
<line x1="423.8" y1="621.56" x2="425.9" y2="621.56" stroke="#141414" stroke-width="0.9" stroke-linecap="butt"/>
<line x1="423.8" y1="620.42" x2="425.9" y2="620.42" stroke="#141414" stroke-width="0.9" stroke-linecap="butt"/>
<line x1="423.8" y1="619.42" x2="425.9" y2="619.42" stroke="#141414" stroke-width="0.9" stroke-linecap="butt"/>
<line x1="422.4" y1="638.2" x2="425.9" y2="638.2" stroke="#141414" stroke-width="1.1" stroke-linecap="butt"/>
<text x="418.7" y="641.2" font-size="7.9" text-anchor="end" fill="#1c1c1c" stroke="#1c1c1c" stroke-width="0.28">10<tspan font-size="5.6" dy="-3.58">-4</tspan></text>
<line x1="434.5" y1="498.8" x2="509.4" y2="498.8" stroke="#141414" stroke-width="1.4" stroke-linecap="butt"/>
<circle cx="473.4" cy="493.2" r="1.15" fill="#141414"/>
<line x1="328.8" y1="638" x2="328.8" y2="641" stroke="#141414" stroke-width="1.1" stroke-linecap="butt"/>
<text x="328.8" y="652.2" font-size="8.8" text-anchor="middle" fill="#1c1c1c" stroke="#1c1c1c" stroke-width="0.28">Diag</text>
<line x1="374.5" y1="638" x2="374.5" y2="641" stroke="#141414" stroke-width="1.1" stroke-linecap="butt"/>
<text x="374.5" y="652.2" font-size="8.8" text-anchor="middle" fill="#1c1c1c" stroke="#1c1c1c" stroke-width="0.28">CCyR</text>
<line x1="447.6" y1="638" x2="447.6" y2="641" stroke="#141414" stroke-width="1.1" stroke-linecap="butt"/>
<text x="447.6" y="652.2" font-size="8.8" text-anchor="middle" fill="#1c1c1c" stroke="#1c1c1c" stroke-width="0.28">Diag</text>
<line x1="490.8" y1="638" x2="490.8" y2="641" stroke="#141414" stroke-width="1.1" stroke-linecap="butt"/>
<text x="490.8" y="652.2" font-size="8.8" text-anchor="middle" fill="#1c1c1c" stroke="#1c1c1c" stroke-width="0.28">Resistant</text>
<line x1="328.8" y1="512" x2="374.5" y2="611.25" stroke="#141414" stroke-width="1.3" stroke-linecap="butt"/>
<line x1="328.8" y1="543.25" x2="374.5" y2="521.25" stroke="#141414" stroke-width="1.3" stroke-linecap="butt"/>
<line x1="328.8" y1="558.75" x2="374.5" y2="611.25" stroke="#141414" stroke-width="1.3" stroke-linecap="butt"/>
<line x1="328.8" y1="584.25" x2="374.5" y2="584.25" stroke="#141414" stroke-width="1.3" stroke-linecap="butt"/>
<line x1="328.8" y1="584.25" x2="374.5" y2="611.25" stroke="#141414" stroke-width="1.3" stroke-linecap="butt"/>
<line x1="328.8" y1="611.25" x2="374.5" y2="530.75" stroke="#141414" stroke-width="1.3" stroke-linecap="butt"/>
<circle cx="328.8" cy="512" r="2.35" fill="#33467a"/>
<circle cx="328.8" cy="543.25" r="2.35" fill="#33467a"/>
<circle cx="328.8" cy="558.75" r="2.35" fill="#33467a"/>
<circle cx="328.8" cy="584.25" r="2.35" fill="#33467a"/>
<circle cx="328.8" cy="611.25" r="2.35" fill="#33467a"/>
<rect x="372.3" y="519.05" width="4.4" height="4.4" fill="#e0a030"/>
<rect x="372.3" y="528.55" width="4.4" height="4.4" fill="#e0a030"/>
<rect x="372.3" y="582.05" width="4.4" height="4.4" fill="#e0a030"/>
<rect x="372.3" y="609.05" width="4.4" height="4.4" fill="#e0a030"/>
<line x1="447.7" y1="551.5" x2="490.8" y2="528.6" stroke="#141414" stroke-width="1.3" stroke-linecap="butt"/>
<line x1="447.7" y1="558.4" x2="490.8" y2="553.8" stroke="#141414" stroke-width="1.3" stroke-linecap="butt"/>
<line x1="447.7" y1="589.5" x2="490.8" y2="544.6" stroke="#141414" stroke-width="1.3" stroke-linecap="butt"/>
<line x1="447.7" y1="618.75" x2="490.8" y2="509.9" stroke="#141414" stroke-width="1.3" stroke-linecap="butt"/>
<line x1="447.7" y1="618.75" x2="490.8" y2="556.3" stroke="#141414" stroke-width="1.3" stroke-linecap="butt"/>
<line x1="447.7" y1="618.75" x2="490.8" y2="562.7" stroke="#141414" stroke-width="1.3" stroke-linecap="butt"/>
<line x1="447.7" y1="618.75" x2="490.8" y2="564.6" stroke="#141414" stroke-width="1.3" stroke-linecap="butt"/>
<circle cx="447.7" cy="551.5" r="2.35" fill="#33467a"/>
<circle cx="447.7" cy="558.4" r="2.35" fill="#33467a"/>
<circle cx="447.7" cy="589.5" r="2.35" fill="#33467a"/>
<circle cx="447.7" cy="618.75" r="2.35" fill="#33467a"/>
<rect x="488.6" y="507.7" width="4.4" height="4.4" fill="#4a2468"/>
<rect x="488.6" y="526.4" width="4.4" height="4.4" fill="#4a2468"/>
<rect x="488.6" y="542.5" width="4.4" height="4.4" fill="#4a2468"/>
<rect x="488.6" y="551.6" width="4.4" height="4.4" fill="#4a2468"/>
<rect x="488.6" y="554.1" width="4.4" height="4.4" fill="#4a2468"/>
<rect x="488.6" y="560.5" width="4.4" height="4.4" fill="#4a2468"/>
<rect x="488.6" y="562.4" width="4.4" height="4.4" fill="#4a2468"/>
<rect x="0" y="0" width="520" height="1.2" fill="#000"/>
<rect x="0" y="0" width="1.3" height="662" fill="#000"/>
<rect x="518.6" y="0" width="1.4" height="662" fill="#000"/>
<rect x="0" y="660.2" width="520" height="1.8" fill="#000"/>
</svg>
</body></html>
